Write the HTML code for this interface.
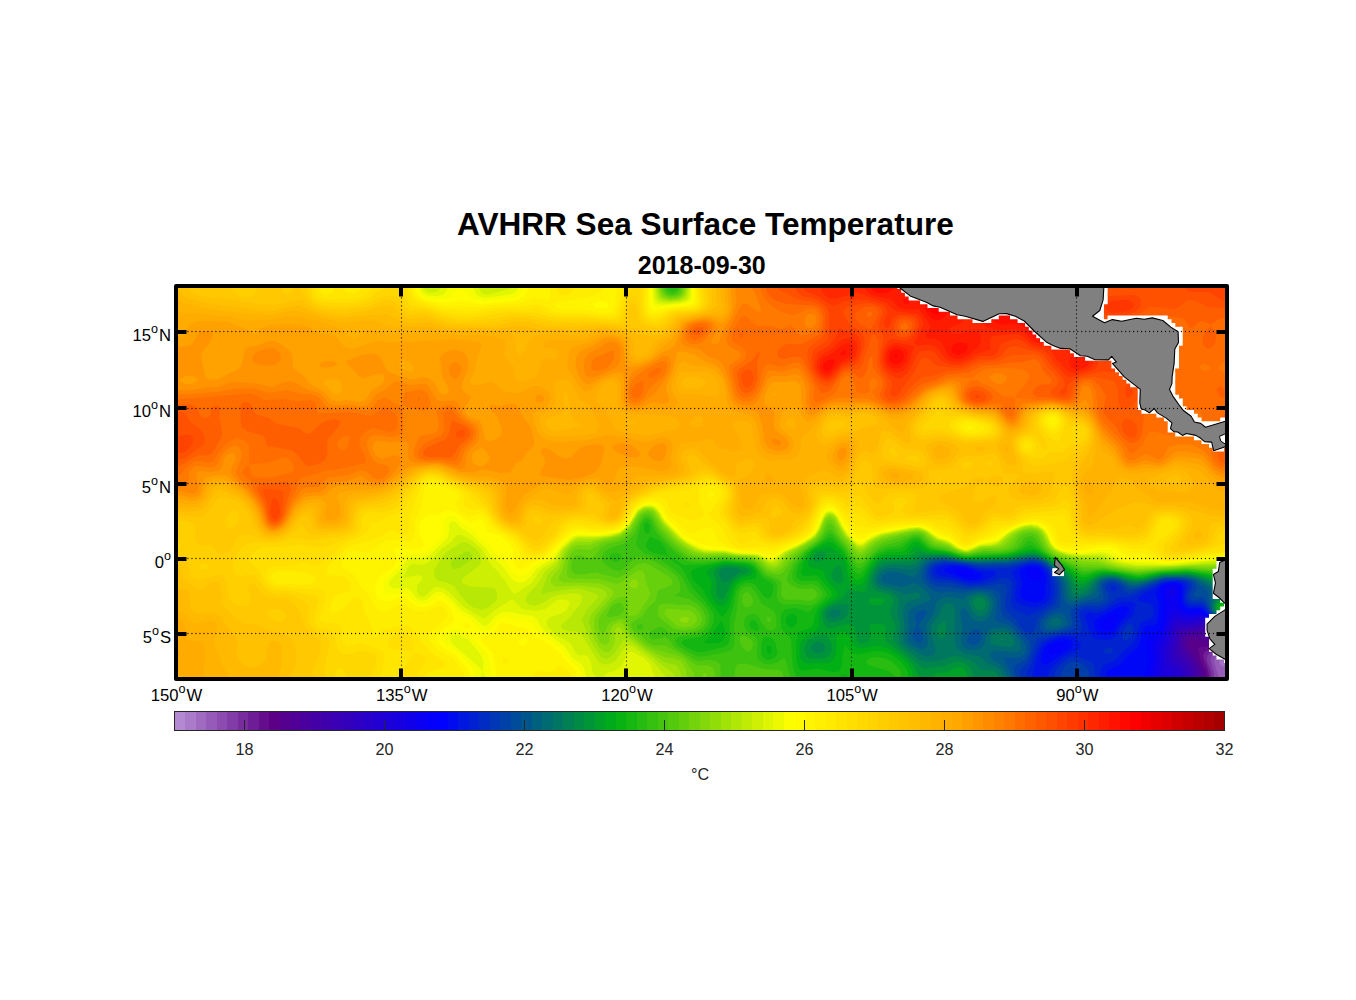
<!DOCTYPE html>
<html><head><meta charset="utf-8"><title>AVHRR Sea Surface Temperature</title>
<style>
html,body{margin:0;padding:0;background:#fff;}
body{width:1356px;height:1000px;overflow:hidden;font-family:"Liberation Sans",sans-serif;}
svg{position:absolute;left:0;top:0;display:block}
text{font-family:"Liberation Sans",sans-serif;fill:#000}
.t{font-size:16.67px}
.s{font-size:12.6px}
.cb{font-size:16.2px;fill:#262626}
</style></head><body>
<svg width="1356" height="1000" viewBox="0 0 1356 1000">

<defs><clipPath id="mc"><rect x="176.0" y="286.0" width="1051.0" height="393.0"/></clipPath>
</defs>
<rect x="176.0" y="286.0" width="1051.0" height="393.0" fill="#ffb400"/>
<g clip-path="url(#mc)">
<g fill-rule="evenodd" shape-rendering="geometricPrecision"><rect x="172.0" y="282.0" width="1059.0" height="401.0" fill="#a473c5"/>
<path fill="#975eb9" d="M1235 685l-1065 0 0-405 1065 0zM1223.5 667l3-3-0.5-3-3-1.5-3.5 1.5 0 3z"/>
<path fill="#8a49ae" d="M1217 685l-1047 0 0-405 1065 0 0 379.5-9-4.5-3-0.5-3.5 0.5-4.5 3-1 3 0.5 3 4 12-1 9zM1235 685l-8.5 0-0.5-6 2-6 7-7z"/>
<path fill="#7d34a3" d="M1211 685l-1041 0 0-405 1065 0 0 373.5-12-2-6 1-4.5 2.5-2 3 0 3 3.5 12 0 6 0 6zM1235 685l-1 0-0.5-6 1.5-3.5z"/>
<path fill="#701f97" d="M1211 685l-1041 0 0-405 1065 0 0 370-9-1.5-6 0.5-9 3-3.5 3-0.5 3 0 3 4.5 12z"/>
<path fill="#630a8c" d="M1208 685l-1038 0 0-405 1065 0 0 366-9-0.5-6 0.5-9.5 3-6 3-1.5 3 0.5 3 4.5 12 1 6 0 9z"/>
<path fill="#58008b" d="M1205 685l-1035 0 0-405 1065 0 0 362-12 0-15 4.5-9 1-1 1.5 2 9 6.5 15 0 12z"/>
<path fill="#510095" d="M1202 685l-1032 0 0-405 1065 0 0 357-15 0-12 5-3 0-9-3.5-3 0-4 1.5-1 3 0.5 3 7.5 10 8 17 0.5 12z"/>
<path fill="#49009f" d="M1199 685l-1029 0 0-405 1065 0 0 353-18 0-12 3-12-1-6 2-2 3 0 6 2 4 8.5 11 5.5 12 1 12z"/>
<path fill="#4100a9" d="M1196 685l-1026 0 0-405 1065 0 0 351-27-0.5-21 3.5-4 3-1.5 6 1.5 6 10 13.5 4.5 10.5 1 12z"/>
<path fill="#3a00b3" d="M1193 685l-1023 0 0-405 1065 0 0 349-30-1-18 3-5.5 3-2 6 0 9 3 6 7.5 8.5 3 6.5 1.5 12 0 3z"/>
<path fill="#3200bd" d="M1187 685l-1017 0 0-405 1065 0 0 348-15-0.5-15-2-21 3.5-4 2-3 6-0.5 15 1.5 4.5 7.5 7.5 3.5 6 1 6-0.5 9z"/>
<path fill="#2a00c8" d="M1184 685l-1014 0 0-405 1065 0 0 346.5-15 0-18-3-12 3-9 0-3.5 1.5-2.5 6-2.5 21 2.5 6 7 6 2 3 1.5 6-1 9z"/>
<path fill="#2300d2" d="M1178 685l-1008 0 0-405 1065 0 0 345.5-15 0-18-4.5-12 3-12-0.5-3 2-2 5.5-4 18-0.5 6 1 6 2 3 6.5 6 2 3 0.5 6-1 6z"/>
<path fill="#1b00dc" d="M1172 685l-1002 0 0-405 1065 0 0 345-18-1-15-5-3 0-9 2.5-12-1.5-3 0.5-3.5 4.5-6.5 27 1 12 1 3 6.5 9 0.5 3z"/>
<path fill="#1300e6" d="M1157 685l-987 0 0-405 1065 0 0 344-18-1-15-6-3-0.5-12 2-9-2.5-3 0-3 2-3 7-3 12-4.5 9 0 30-1.5 9z"/>
<path fill="#0c00f0" d="M1151 685l-981 0 0-405 1065 0 0 343-18-0.5-6-2-9-5.5-3-0.5-12 1.5-12-6.5-3 1-4 8.5-4 15-6 9-1 3 0.5 18-4.5 21zM1172 598l3-6-3-3.5-3 3.5 0.5 3z"/>
<path fill="#0400fa" d="M1148 685l-978 0 0-405 1065 0 0 342.5-18-1-6.5-2.5-8.5-6-3-1-9 1.5-6-2-4.5-4.5-1.5-3-0.5-3 0.5-12.5-3-3-6.5 0.5-3.5 3-0.5 3 2.5 15-3.5 21-3 6-6.5 6-1.5 3 1 18z"/>
<path fill="#0007f6" d="M1139 685l-969 0 0-405 1065 0 0 341.5-12 0-6-0.5-6-3-9-7-3-1-9 0.5-3-0.5-4-3-3-6 1-12-1-3-5-2.5-3 0-8 2.5-2.5 3-0.5 3 2 12-2 21-1 3.5-3 3-7 2.5-2.5 3-1.5 9 2.5 12-0.5 9-6 18zM1041 577l0.5-3-1-3-3.5-3-7 0-4 3 0 3 5 5 6 0.5zM973 577l1.5-3-3.5-3-3-1-9-1.5-5 2.5 3.5 3 7.5 3zM1112 628l6.5-12-0.5-2-3 0-9 4.5-4.5 3.5-1 3 0.5 3 2 1.5 3 1 3-0.5zM1052.5 655l10.5-6 2.5-3-0.5-3-7-0.5-6.5 3.5-3.5 6 1 3z"/>
<path fill="#0015e3" d="M1106 685l-60.5 0-2.5-4.5-3-1-2.5 2.5-1 3-866.5 0 0-405 1065 0 0 341-12 0-6-1-7.5-4-7.5-7.5-3-0.5-9 0.5-3-1-3-3-1.5-3.5 0.5-15-5-3.5-6-0.5-6 1-5.5 3-4.5 6 0 3 2.5 6 0.5 6-2 16-3 2.5-6 0-3 1.5-2.5 4-3.5 14-2.5 4-8.5 6-7 9-12.5 6-2.5 3-0.5 3 2.5 9zM977.5 580l5-3-0.5-3-13-6-7-1.5-9 0-7.5 1.5-2 3 21.5 8.5 6 1zM1040.5 601l3.5-3 1.5-3-0.5-9 1-9-2-6-4-4-6-1.5-6 0.5-5 2-3.5 3 0 3 3.5 9-2.5 9 0 3 1 3 3.5 2.5 6 1.5 6 0.5zM1111.5 634l3.5-3.5 6-9.5 7.5-8 0.5-3-2-3.5-3-0.5-6 1-22 12-2 3 0.5 6 1.5 3 3 3 7 1.5zM1047.5 664l22.5-15 2.5-3 0.5-3-2.5-3-6.5-1.5-6 1-8.5 3.5-3.5 3-4 6-1.5 9 2.5 4z"/>
<path fill="#0023d0" d="M1100 685l-49.5 0-2-9 0-3 1-3 13-12 7.5-4.5 9.5-4.5 1.5-3-0.5-3-4.5-4.5-3-1.5-6-1-9 1-8.5 3-5 3-3 3-4.5 10.5-5.5 22.5 0 6-861.5 0 0-405 1065 0 0 340-12 0.5-6-1-6-3.5-9-9.5-12-0.5-3-1.5-2-3.5-1-3 2-12-2-3-6-1.5-6-0.5-10 2-11 7-9 4.5-3.5 3.5-1 3 13.5 3 2.5 3 0.5 6-1 3-3 3-8 3-2.5 3-3 12-3.5 6.5-9 7-9 10-9 3.5-3 1.5-3 7.5zM974.5 583l11.5-3 6-3 4-3-1-3-12-0.5-18-4.5-12-1.5-7.5 0.5-4.5 1.5-4 1.5-1.5 3 1.5 3 4 2 12 2 12 4zM1038 607l8-4 4-5 1-6-2.5-18-4.5-6-7-4-9 0-10.5 4-4.5 3-0.5 3 4.5 9-2 12 1 6 3 2.5 6 2.5 9 1.5zM1106.5 640l5.5-1 3-2 7-12 10.5-9 1.5-3 1.5-9-2.5-2-3-0.5-9 0.5-6 2.5-12 7-6 1.5-9-0.5-3 2.5 0.5 4 4 12 3 6 4.5 2.5z"/>
<path fill="#0031bd" d="M1025 685l-855 0 0-405 1065 0 0 339.5-12 0-6-1-6-4-6-8-3-2.5-12-1-2.5-2-1-3 0-3 2.5-9-2-3.5-6-2-6-0.5-12 1.5-23.5 10.5-6.5 4-6 1-9 0-8 7-7 4-6 1.5-9-1-6 1.5-2.5 3 0 3 3 9-0.5 6.5-3 1.5-15 1-13 3-7.5 3-4 3-3 6-5.5 15.5-5 8.5 1 12zM1035 613l8-4 7.5-5 2.5-3 1.5-6 0-9-3.5-12-4.5-6-6.5-4.5-9-1-18 4.5-9 1.5-24-0.5-15-3.5-18-1-9 1-5 3.5-1.5 3 0.5 3 3 3.5 3 1.5 12 1 18 5 15-1 6-1.5 12-4.5 6 0 3 2 2 3 0.5 3-2 15 2 6 3.5 3 12 5.5zM1116.5 589l-1.5-3-4 0 0 3 1 1.5 3 1zM1145 613l-0.5 0 0.5-1.5zM1127 640l-4 0-0.5-6 2.5-6 2-2.5 3-1.5 3 1 0.5 6-2.5 6zM1112 652.5l-3 1-3 0-1.5-1.5 0-3 4.5-1.5 3 0.5 1 1zM1094 685l-38.5 0-1-12 3.5-6 9-8 6-2.5 6 0.5 12 5 3 3.5 1 7.5z"/>
<path fill="#003faa" d="M1022 685l-852 0 0-405 1065 0 0 338.5-12 0.5-6-1.5-6.5-4.5-5.5-10-3-2-9 0-3-1.5-1-4.5 3.5-9-1-3-6-3-10.5-1-11.5 1-33.5 13-3-0.5-3-1.5-3.5-5-4-3-7.5-0.5-3.5 3.5 0 3 3.5 6 0.5 3-3.5 4.5-6 3-15 0.5-3.5 1-4.5 3-2 3 2 12-1 3-7.5 3-28 6-3.5 1.5-8.5 22.5-8.5 9-0.5 3zM1034 631l3.5-12 6-6 11.5-8 2.5-7 0-12-2.5-9-6.5-9-5.5-4-6-2.5-6-0.5-24 5-24 0.5-30-4.5-9 0-9 2-2.5 1-3 3-1 3 1 6 2.5 3 6 3 12 0 18 4 21-1.5 12-2 3 0.5 2.5 2 0.5 3-1.5 12 0 6 1.5 4 9 8.5 5.5 8.5 3.5 3.5 6 2zM1082 685l-20.5 0-1-6 0.5-6 3.5-6 3-3 5.5-2.5 3 0.5 6 2 6 5.5 1 3.5-1 5.5-3.5 6.5z"/>
<path fill="#004d98" d="M1016 685l-846 0 0-405 1065 0 0 338-12 0.5-6-1.5-3-2-4-5-5-11.5-3-1.5-6 0.5-3-2.5 3.5-6 0-3-1.5-3-5-3-12-2-12 0.5-6.5 1.5-20.5 8-9 1.5-3-1-6.5-5.5-8.5-2.5-6 1.5-2 1-1.5 3 1.5 12-2.5 3-4.5 1.5-9 0-5.5 1.5-7 3-4.5 3-0.5 3 2 9-0.5 3-2 2-10 4-14 2-4.5-2-1.5-3 0.5-6 1.5-3 4-4 13.5-8 1-3 0-15-2-9-3-6-5-6-7.5-5.5-6-2-6-0.5-21 4-30 1-36-4.5-9 1.5-6 3-3 6 0 6 3 5.5 6 4 3 0.5 12 0 15 2.5 15-1 9 0 6 1 4 2.5 1.5 3 0.5 15 1.5 6 10.5 7 9 10.5 6.5 6.5 1.5 3-0.5 9-3 6-4.5 4-6 2.5-2 2.5 0.5 6 3.5 12z"/>
<path fill="#005c85" d="M1013 685l-843 0 0-405 1065 0 0 337.5-12 0-6-1.5-3-2-4-7-1-12-1-3-14-12-7-2-12-1-9 0.5-10 2.5-14 5-9 2-6-1.5-9.5-5.5-5.5-1-6 1-5 3-1 2-1 10-2.5 3-26.5 7-3-1-3-5-2-16-2.5-6-7.5-9-6-5-6-3-9-1.5-24 4.5-27 0.5-36-4-9 1-6 2-5 5.5-2.5 9 2.5 6 11 8.5 6 1 9-1 12 1.5 12-2.5 9 0 7.5 1.5 3.5 3 2 3 1 6-1.5 15 2.5 3 9 2 6 4 10 12 3 6-0.5 6-3.5 4.5-6 1.5-9-0.5-3.5 0.5 6 12 4 12 0.5 3zM923 640l-0.5-6-4-9 8.5-12-1-2.5-3-0.5-6 2-2.5 4 2 9-2.5 5-1.5 7 1.5 3 3 2.5 3 0.5zM1061 628.5l-6 1.5-6 0-4-2-1-3 0.5-3 2-3 5.5-4.5 6-1.5 3 0 4.5 3 2.5 6-1 3zM978.5 643l2-3 1-3-0.5-6-4-2-3 0-3 2-2.5 3-1.5 6 1 3 3 1.5 3 0.5z"/>
<path fill="#006a72" d="M1007 685l-837 0 0-405 1065 0 0 336.5-12 0.5-4-1-5-3-2-3-1-6 3-12.5-2-2.5-14.5-9-10.5-3-22 0-23 7-9 1-3-0.5-12-5.5-6-1-6 0.5-4.5 1.5-3 3-3.5 9-2.5 3-16.5 6-6-0.5-3-3-2-14.5-5-9-6-6-8-6-6-3-6-1.5-6 0.5-21 3.5-27 1-15-1-18-3-9 0-6 1-6 2.5-3 3-6 9-3 2.5-3 0.5-9-4-6-1-6 0-6 2-2.5 3 0 3 2.5 3 18 4 12-4 3 1 6 4 6.5 7 1.5 3-2 3-15.5 6-4 3-1.5 3 1 12-1.5 12 0.5 3 2 3 3.5 3 6.5 3 4.5 0 3-3 0.5-6-1.5-9 0-6 7.5-12 1.5-9 1.5-3 6-3 7-1.5 12 3 6-4.5 9-2.5 6 0 6 2.5 4 6 0 6-3 9-4 4.5-6 1.5-6-1.5-3-3-6-9.5-3-0.5-2 5.5 2.5 15-1.5 9 0.5 6 1 3 4 3 4.5 1 6-0.5 6-2.5 4-13 2-3.5 3-2 12-1 3 1 4.5 2.5 5.5 6 3.5 6 0.5 6-2 2.5-6 1-15-2-6.5 1.5-1.5 3 2 4.5 9 5.5 4 5 2.5 6 2 9zM1058 626l-6 1-3-2 0-3 3-3 3-1.5 3 0 3 1.5 1.5 3-2 3z"/>
<path fill="#00785f" d="M1004 685l-834 0 0-405 1065 0 0 335.5-12 0.5-7.5-3-2-3-1-6 1.5-4.5 5.5-7.5-1.5-3-22-11-9-2-24 0.5-27 7-6-1-15-5.5-9 0-7.5 3-2.5 3-5 8.5-3 2.5-9 3.5-6 0-3-2.5-2.5-12-5.5-9-14-12-8-4-6-1.5-6 0.5-21 3.5-30 1-12-1-18-3-12 0-9 2-12 9.5-3 0.5-18-1.5-6 0.5-6 3-3 4-1 4.5 1 3 3 2.5 12 3.5 12 5.5 12-2.5 4 3-1 3-12 3.5-3 3.5-2 5 0 6 1.5 9-1 15 4 6 15.5 9.5 6 1 4.5-1.5 2-3 0-3-4.5-15 0-6 0.5-3 6.5-9 6-11.5 3-1.5 3 0 3 1.5 2 5.5-0.5 30 1 6 1.5 3 8 4.5 15 3 9 7.5 9 4 3 3 2.5 5zM980 616.5l-3-1-3-2.5-5-9 0-3 1-3 4-2.5 3-1 6 0.5 3 1.5 3 4 1 3.5-1 5.5-2 3.5-4 3zM1013 646l-3 1-12-1-6-1.5-1.5-1.5 0-6 2.5-3 5-2.5 6 0 3 1 3 2 4 5.5 0.5 3z"/>
<path fill="#00864c" d="M995 685l-825 0 0-405 1065 0 0 308-12-1-26-10-10-2-24 0.5-21 5.5-6 1-6-1-12-4-9-1-9 1.5-4 2.5-8 9.5-3 2.5-6 2-3 0-3-2-3-9-3-6-5.5-6-15.5-11-6-3-6-1.5-6 0-21 4-30 1-12-0.5-21-4-15 1-6 1-9 6-3 1-18-0.5-9 1.5-6 4-2.5 4-1.5 6 2 6 4.5 3 11 3 4.5 3 2 3 1 3-2 12 3.5 12-1.5 15 3.5 6 17.5 14 6 2 12.5-1 14.5-5 6 0.5 12 4 5 3.5 4 5 3 1 9 0.5 4.5 2.5 1.5 3 0.5 3-2 6zM1235 615l-12 0.5-6-2.5-2.5-3-1-3 0.5-3 3-5.5 3-2 6-2.5 9 0.5zM983 610l-3 1-3-1.5-2.5-2.5-1-3 0-3 2.5-3 4-0.5 2.5 0.5 2.5 3 1 3-0.5 3zM839 616l2-3-1-3-1-0.5-6 0-4 3.5 0.5 3 3.5 2zM944 637.5l-3 1-3-2-1.5-5.5 1.5-5 6-5 1.5 1 1 6-1 6zM1004 640l-4.5 0 1.5-2z"/>
<path fill="#00943a" d="M974 685l-804 0 0-405 1065 0 0 305-12-1-27-8.5-9-1.5-24 1-21 5-6 0.5-6-0.5-12-4-9-1-6 0.5-5 1.5-5 3-8 7.5-6 1.5-3-1.5-6.5-10.5-5.5-6-18-12.5-6-3-6-1.5-6 0.5-21 4-33 1-12-0.5-18-4-21 0-3.5 1-8.5 5-24 1-6 2-3 2-4 5-2 5-1 4 0.5 6 3.5 4.5 14.5 4.5 3 3 1 3-0.5 3-3.5 9 6 12 0 3-2.5 9 0.5 3 1.5 3 25 23 3 2 3 0 18-2 12-4.5 3 0 6 1.5 4.5 4 3 6 3 12zM725 583l16-12-4-3-3-0.5-6-0.5-6 1-3 3-0.5 3 3.5 8zM1235 614l-9 0.5-7.5-1.5-2.5-3-1-3 2-5.5 6-4 6-0.5 6 0.5zM837 622l6.5-3 3.5-3 2.5-6 0-3-1.5-2-3-1-9 1-6 2-3.5 3-1.5 3 0 3 2 4.5 3 2zM823.5 652l2-3-0.5-3-2-3-5-1.5-4 1.5-3 3 0 3 2 3 5 1.5z"/>
<path fill="#00a227" d="M917 685l-747 0 0-405 1065 0 0 302.5-15-1.5-30-7.5-27 0.5-21 5-6 0.5-21-5-9-0.5-9 2-12 7.5-3 1-3-0.5-3-2.5-6-7.5-8-6-19-12-9-3-6 0-21 4-36 2-9-1-15-3.5-18-1-9-2-3 0.5-9 5.5-24 1.5-6 3-6 8-3 7-3 13.5-3 2-15-3-5.5 8.5-12.5 6.5-6 4.5-2 4 0 6 2 5 3 4 3 0.5 15-4 7.5 0.5 2 3 2.5 12 3 3 3 0.5 3-1 3-2 1.5-3.5-1-12 5.5-1.5 9 1.5 1.5 3-1 9 1 3 2.5 3 19 15 5.5 6 3.5 6 3 6 1 6 0 3zM819 562l5.5-3 1.5-3-0.5-3-1.5-1-3-0.5-3 0.5-2 1-2.5 3-0.5 3 2 2.5zM724.5 598l5-12 4.5-6 6-4 6.5-2 2.5-3-2-3-13-2.5-9-0.5-8.5 3-2.5 3 0 3 2.5 9 0 12 2.5 4 3 0.5zM842 583l1-3-0.5-9-3.5-6-3 1-3 4-1.5 4 0 3 1.5 3 3 2.5 3 1zM881 604.5l-6 1-5-1.5-1.5-3 1-3 12.5 0 3 3zM1232 613.5l-6 0.5-6-1.5-3-2.5-0.5-3 0.5-3 3-3 3-1.5 12 0 0 13.5zM863 620l-3-1 3-0.5zM825.5 658l4.5-3 2-6-1-6-4-8-3-1-9 2.5-6 3-3 3.5-2 6 2 7 3 2 3 0.5 9 0.5zM968 685l-34.5 0-1.5-6 1-3 4.5-3 9.5-0.5 9-5 3-0.5 3 0.5 3 2.5 1.5 3 2.5 9 0 3z"/>
<path fill="#00b014" d="M911 685l-741 0 0-405 1065 0 0 300-18-1.5-21-5-9-1-24 1-21 4.5-6 0.5-21-5-12-0.5-6 1.5-12 6-3 0.5-3-1-14.5-12-21.5-13-9-4-6 0.5-21 4.5-39 2-9-1-12-3.5-18-1.5-4.5-2-7.5-4.5-3 1-5.5 6.5-3.5 2-18 0.5-9 3.5-7.5 9-7.5 15.5-3 1.5-3 0-5-2-2.5-3-4.5-18-3-5.5-3-3.5-8.5-6-3.5-0.5-12 4-3.5 2.5-3 6-0.5 3 1 4.5 3 1.5 9 1.5 2 1.5 4 9.5 10.5 11.5 0 3-2 3-11.5 8-4 4-1.5 6 0.5 9-1 3.5-2.5 2.5-10.5 6-3 3-2 5.5-0.5 6.5 1 6 1.5 3 4 2.5 24-0.5 3-2.5 2.5-5.5 1-6 0-12 1-3 4.5-2.5 3 0.5 3 2 6 11 3 2.5 6 1 15-3 12 4 9 6 9 8.5 3.5 6 1.5 6 0 9zM726 604l2-3 3.5-12 3.5-6 5-4 12-4 1-4-1.5-3-7-3-19.5-1.5-7 1.5-7 3-4 3 0 3 3 4 2 5-1.5 9 1.5 6 4 5.5 3 2 3 1zM1235 611.5l-12 1-4-2.5-1-3 1-3 4-2.5 6-0.5 6 0.5z"/>
<path fill="#14b612" d="M905 685l-53 0-1.5-6-2.5-3-3-1.5-3 0.5-3 2-3.5 8-665.5 0 0-405 1065 0 0 298-24-2.5-15-3-9-1-27 1.5-18 4-6 0-21-4.5-12-0.5-6 1-12 4.5-3 0-3-1-11.5-8.5-27.5-16-6-2.5-6 0-11 3.5-10 2-42 2.5-18-5-18-2.5-12-8.5-3 0.5-3 2-5 6-4 2-15 0.5-9 3.5-6 6-9 15-3 2.5-3 0.5-3-2-2.5-4-6.5-18.5-3-4-9-8.5-3-1.5-3 0.5-14.5 8-5.5 6-3 6-3 9 0.5 3 1.5 1.5 3 0.5 9-1 3 1 11.5 13 2 3 0.5 3-2 3-9 7.5-4 4.5-2.5 6-0.5 6-2 4-3 2.5-9 3-2 2.5-1.5 6-0.5 15 0.5 6 2 6 1.5 2 3 1.5 15-2 15 3.5 6-0.5 2.5-4.5 1.5-15 2-7 6 7 3 2 6 0 12-2.5 6-0.5 9 1.5 6 3 9 7.5 5 7 1.5 6-0.5 9zM722.5 616l2.5-2 4.5-7 5-18 2.5-4.5 6-4 12-1.5 1.5-2-0.5-6-2-3-4-3-7-1.5-18-1.5-28.5 6-5 3-0.5 3 2.5 6 9 9 6.5 12 13 16zM1235 610l-9 1.5-3-0.5-2-1-1-3 2-3 4-1.5 9 1.5zM795.5 625l2-6-1-3-2.5-2-3 0-3 1.5-2 3.5 0 3 1 3 4 2.5 3-0.5zM718 643l4-1.5 3-4.5 0-7-3-9-3 3-6.5 10-8.5 9 6 0.5zM771 652l0.5-3-1-3-3.5 0-0.5 3 0.5 4 3 0.5z"/>
<path fill="#29bd11" d="M797 685l-627 0 0-405 1065 0 0 296-24-2-24-3-27 1.5-21 3.5-6-0.5-15-3-12-1.5-9 0.5-12 3.5-3 0-30-17-15-9.5-6-3-3 0.5-12 5.5-9 2.5-42 2.5-18-5-15-2-5-2.5-7-7-3-1-3 0-4 2-8 7-15 2-9 3.5-6 5.5-9 12-3 2.5-3 0.5-3-3-9-19-12-13-3-2-3 1.5-20 14.5-8.5 12-2.5 9 1 4 3 2.5 3 0.5 12-0.5 3 1 8.5 10.5 0.5 3-1.5 3-16.5 13.5-3 0-6-2.5-6-1-9 1.5-3.5 3.5-1 6 1 9 1.5 3 6.5 6 1.5 3 1.5 24 1.5 7 4.5 11 0.5 3zM650 532l0-7-3-3-3 2.5 0 6 3 3.5zM703 652l19-4.5 4-1.5 3-3 1-6-0.5-18 4-12 2.5-15 4-6.5 6-2.5 4.5 0 4.5 1.5 9 12 3 2 3 0 2-3.5 1-3 0.5-6-2-3-9.5-6-7-10.5-6-3.5-24-2-21 3.5-21 0-15-9-3.5-8.5-5.5-6.5-9-4-4 7.5 0.5 3 1.5 3 5.5 3 14.5 3 5.5 6 6.5 4 3 4 9 17 12 13 9 13 1 3-0.5 6-2.5 6-4 5-6 3.5-18 3.5-1.5 3 3 3 10.5 5.5zM1229 608.5l-3 1-3.5-2.5 3.5-1.5 5 1.5zM758 631l1-3-1-4-3-3.5-3-0.5-2.5 2-0.5 3 1.5 3 4.5 3zM774.5 658l2-3 1-3-2-9-2.5-4-3-2-6-0.5-1.5 3.5-1.5 9 0.5 6 2 3 3.5 2 3 0zM899 677.5l-3-1-9-6-18-5-2-1.5-1-3 4-3 5-1 9 1 6 2.5 6 5 4 4.5 1 3-0.5 3z"/>
<path fill="#3dc30f" d="M791 685l-621 0 0-405 497.5 0 0 9 3.5 3 3.5 0 3-3 0-3-1.5-6 559 0 0 294-27-1.5-18-2.5-30 1.5-21 3.5-33-5-9 0-9 2.5-6 0-32-16.5-8.5-6-10.5-9.5-3 0-6.5 6.5-5 3-6.5 2-9 1.5-18 0.5-15 2-6-0.5-12-4-18-3.5-3-1.5-8.5-8.5-3.5-1-6 1-12 7.5-12 2-9 3.5-6 5-9 10.5-3 2-3-0.5-3-3.5-9-15.5-12-14-3-1.5-3 1.5-5.5 6-17 12-9 12-3.5 9 1 6 4 3.5 6 1.5 9-1 6 2.5 4 5.5 0.5 3-1.5 3-6 5.5-6 2-12-1.5-12 0.5-3-0.5-4-3-1-6 0.5-9-1-3-3.5-3-9-4.5-9-11-6-2.5-18-2-9 0-21 2.5-9-0.5-6-1.5-14-10.5-14-15-2.5-3-5.5-12-3-1.5-3 1-3 5-4.5 16.5-0.5 3 1.5 3 6.5 6 18 7.5 15 11 5 5.5 7.5 15 14.5 13.5 3.5 4.5 2 6-1 9-5 6-8.5 3.5-15 2-3 1-2 2.5 0.5 3 2.5 3 14 8 6 2.5 6 0 18-3.5 9-2.5 3-4.5 0-22.5 2.5-10.5 2-18 1.5-4.5 3-3 3-1 3 0 3 1.5 3 3.5 7 12.5 11 6.5 2 2.5 1.5 6-0.5 8-3 3.5-6-1-3-3.5-6-10-3-2-6 0.5-2.5 1.5-2 3-0.5 6 1 3 2 3 8.5 6 1.5 3 0.5 6-1 9 1 3 3.5 4 3 1.5 6 1 6-1.5 9-5.5 5 18.5zM617.5 562l3.5-3 0.5-3-1.5-2-3-1.5-6 1-1.5 2.5 0.5 3 4 3zM785 649l0-3.5z"/>
<path fill="#52c90e" d="M719 685l-549 0 0-405 494.5 0 0.5 9.5 3 4 3 1 3 0 4-2.5 1.5-3 0.5-3-1-6 556 0 0 292-27-1-21-2-27 2-21 3-36-5.5-18 2-3-0.5-30-14-8-6-9.5-12-3.5-2-6 1.5-7.5 9.5-7.5 3.5-12 2-15 0-15 2.5-12-2-12-4-10.5-2-4.5-2.5-9-9-6-0.5-15 6.5-15 4-6 3-15 14-3 1.5-3-0.5-3-3.5-8.5-13-12.5-15.5-3-2-3 1.5-8 10-13 9-6.5 6-7 9-5.5 12-0.5 3 2 3 5.5 4 6 2 12-0.5 3 1.5 2 2 0.5 3-2 3-3.5 2.5-3 0.5-12-1.5-9 0.5-3-0.5-3-3-1-4.5 1-9-2-3-13-5-12-12.5-6-2-21-2-24 1.5-12-0.5-3-1-12-7.5-6-5.5-12.5-13.5-5.5-11-3-4-3-1-3 1-4.5 6-4.5 10.5-6 6-6 4.5-12 3.5-6 3.5-3 5 0 3 1 3 5 4.5 6 3.5 6 1 4.5-3 10.5-10 6-1 15 5 15 9.5 6 5 3 6.5 0 8-3 3.5-5 0.5 17 4 9 5.5 5 5.5 2.5 6 0 6-1 3-2.5 3-5 3-8 1.5-9 1-9-0.5-3-1-4-4-5-1.5-9 5.5-1.5 2 1 3 3.5 3 12-3 3 1.5 6 8.5 21 13 3 1 12-1 6 1 4 3 0.5 3 0.5 18zM749 607l-3.5 0-3-3-0.5-3 0.5-6 3.5-3 3 0.5 3.5 5.5 0.5 6zM770 622.5l-3-2 0-4 3 1 1 1.5zM643.5 628l-1-3-1.5-1-4 1 0 3 1 1 3 1zM749 651.5l-3-0.5-3-2.5-3-5.5 0-6 3-2 6 3 2.5 2 1.5 3-1 5.5zM782 685l-48.5 0 2-18 1.5-2.5 1.5-0.5 7.5-0.5 18 5.5 15 1 3 2 1 4z"/>
<path fill="#66d00c" d="M713 685l-543 0 0-405 493 0-0.5 6 1.5 6 3 3 4 1 6-1 3.5-3 1-6-0.5-6 554 0 0 290-27 0-21-1.5-27 1.5-24 2.5-33-5-21 0-24-9.5-8.5-5-6-6-6.5-11.5-6-2.5-6 1-3 1.5-3 2.5-6 8.5-6 3-9 1.5-15 0-15 3-8.5-1-12.5-5-12-2.5-3.5-1.5-8.5-9-3-1-6-0.5-26 7.5-7.5 3-5.5 3-12 11.5-3 1-3-1-3-3-16-20.5-5-9-3-2.5-3 1.5-5 10-4 5-22 16-14 17.5-6 1-9-2.5-9-9-6-3.5-27-2.5-24 1-12-2.5-6-3.5-9-7.5-14.5-15.5-6.5-12-3-3-3-0.5-3 0.5-3 2.5-7 12.5-8 8.5-6 3.5-12 3-6 3-9 10.5-3 1-12-3.5-3 1-3 4-1 8 1 3.5 3 2.5 6 0.5 15-2 21 5.5 6-2.5 15-11.5 6-1 6 2 19.5 12 2.5 3 0.5 3-1.5 2.5-12 4.5-1.5 2-2 9-8.5 8-4.5 7-10.5 6-1 3 0.5 3 2 3 7.5 5 9 8 6 1.5 9 0 18 9.5 12 9.5 3 1 9-0.5 5 2 2 3 1 6-1 9zM618.5 616l4-3 1.5-3-1-5.5-3-2-5.5 1.5-3.5 3-3.5 6-1 3 1.5 1.5zM695 628.5l-12 2-9-1.5-13-10-2-2.5-1.5-3.5 0.5-6 3.5-3 6.5-0.5 12 1.5 9 0 5.5 2 5.5 6 2 6-2 6z"/>
<path fill="#7ad60a" d="M689 685l-519 0 0-405 491 0 1 12 3 3.5 6 2 6-1 3.5-1.5 2-3 0.5-3 0-9 552 0 0 288-27 0.5-21-1-51 4-36-6-18-1-21-7-9-4.5-6-6-6.5-12-4-3-4.5-1-6 0.5-7 3.5-8 9.5-6 3.5-6 1-15 0.5-15 4-9-1.5-12-5.5-12-3-12-10-3.5-1.5-6.5 0-24 6-8.5 3-5.5 3-12 10.5-3 1-3-1-3-3-13.5-16.5-7.5-13.5-3-2-3 1.5-7 14-5 5.5-23 15.5-10 12.5-3 2-6 1-6-2.5-7-7-8-3.5-27-3-21 1-9-1.5-6-2.5-12-8.5-14.5-15-9.5-15.5-3-2-3-0.5-6.5 3-2.5 3.5-6.5 11.5-8.5 7.5-6 2.5-15 4-12 7-12-1-3.5 1-2.5 2-3 4.5-2.5 17.5 1.5 3 4 1.5 27 0.5 18 5 6-2.5 12-9.5 3-1.5 4.5 0.5 2 3 1.5 9 4 9 0 3-11 18-4 2.5-6 0.5-1-3 0.5-12-1.5-3-4-1-6 1-6 4.5-11 13.5-2 6 1 7.5 3 4 3-2 3-6.5 3.5-3 8.5-3 6 0.5 4 11.5 17 14.5 6 3 24 7 5.5 2.5 3 3 8.5 12 0 3-2.5 9zM692 626l-9 1.5-6-1.5-11-10-1.5-3 0.5-3 3-1 3 0 18 1.5 3 1 3 2.5 2 5-0.5 3zM707 676.5l-3 0.5-1.5-1 1-3 1.5 0 2 2z"/>
<path fill="#8fdc09" d="M686 685l-516 0 0-405 489.5 0 0 9 2.5 6 3 2.5 6 1.5 6.5-1 5-3 2-6 0-9 550.5 0 0 286-30 1-15-0.5-54 3.5-15.5-2-23.5-5.5-15-1-21-6-6.5-2.5-6.5-6-5-10.5-3-4-3-2-6-1.5-6 0.5-6 2.5-4.5 3-9 9-4.5 2.5-6 1.5-12 0-15 4.5-6-0.5-15-7-12-3.5-11.5-9.5-6.5-1.5-10 1.5-24.5 6-7.5 3.5-12 10-3 1-3-1.5-3-2.5-11-13.5-8.5-15-4.5-3-3 1-3 4-4 10-4.5 6-27 18-9.5 11-6 2-6-2.5-9-7.5-6-2-27-2.5-21 0-12-3-9-5.5-9-7.5-12-13.5-6-10.5-3-3.5-3-1-6 0-6 5-9 14.5-9 6.5-19.5 5-10.5 4-12 0-6 2.5-3 3-3 5.5-2.5 12-4.5 9-0.5 3 4.5 2.5 15 0 21 1 6 2 6.5 3.5 2 3-0.5 3-15.5 18-3.5 6 0 9 5 12.5 3 3.5 3 1 3-1 1.5-4 0.5-9 3-6 4-2 3-0.5 3 1.5 6 10 18 14.5 18 9 9 1 6.5 2.5 2.5 3 3 6 0.5 6zM638 586.5l-3 2-3-0.5-3-2 0.5-3 2.5-3 3-1 3 2.5zM686 623l-5-1-1.5-3 3.5-2 3 0 3 1.5-1 3.5z"/>
<path fill="#a3e307" d="M680 685l-510 0 0-405 488 0 0.5 9 1.5 6 2 2.5 3 1.5 6 1 9-1.5 4.5-3.5 1.5-6 0-9 549 0 0 284.5-45 1-51 3.5-18-2-9-2-15-5-18-1-21-6-5.5-3-3-3-8-15-4-3-6.5-1.5-8.5 1.5-6.5 3-5 3-9.5 9-3.5 1.5-16.5 1.5-13.5 5-6-0.5-6-2.5-8-5-13-4.5-9-7.5-9-2.5-30 5.5-9 3-5.5 3-9.5 8-3 0.5-3-1-10-10.5-4.5-6-6.5-12.5-3-3.5-3-1-3 1-3 3.5-3.5 9.5-5.5 8.5-9 6-17 9.5-4 3-6 7.5-3 2.5-3 0.5-6-2.5-6-5-8.5-3-15.5-0.5-12-2.5-18 0.5-12-2.5-9-5-9-7-14.5-16-7.5-12-5-3-3 0-7 3-2 2-7.5 13-4.5 5-6 3.5-6 2-9 1.5-15 4-12 0-6 2.5-3 2.5-4.5 6-4.5 14.5-8 9.5-1 3 0 3 3 2.5 3 1 24-1 18 2.5 6 3 2 4-1.5 3-13 15-2 3-1.5 6 4 15 6 10.5 6 4.5 3 0 3-2 4-7-0.5-12 2.5-3.5 3 0 7.5 9.5 7.5 4.5 12 9.5 18 11.5 9 2 3 1.5 3 5 1.5 8 0.5 6z"/>
<path fill="#b8e906" d="M677 685l-507 0 0-405 487 0 0.5 12 1.5 5 3 2.5 9 1.5 9-1 4-2 2-2.5 1.5-6.5 0-9 547.5 0 0 283-96 4.5-18-2-12-3.5-9-4-21-0.5-12-2.5-9-3-6.5-5-8.5-15.5-3-2.5-9-2.5-6 0.5-12 5-15 12-6 2-12 0.5-12 5-3 0-9-3-6-4.5-12-4-12-8.5-6-2.5-3-0.5-34 6.5-8 3-12 9-3 0.5-3-1-11.5-11.5-5.5-9-4-8.5-3-3-3-1-3 1-3 4-4 10.5-5 7.5-9 6.5-20 10-10 10-3 1-3-0.5-7-4.5-8-3.5-18-0.5-12-2.5-21 0-9-3-17-11.5-14.5-15-5-9-5.5-6-9 0-6 4-8.5 14-9.5 8-9 2.5-18 3-15 0-4.5 1.5-4 3-6.5 7.5-6 14.5-9 8-6.5 18 0.5 2.5 9-3 27-3 13.5 3.5 6.5 3-0.5 3-10.5 12-5 9 0.5 3 9 21 7.5 11 3 3.5 3 1 3 0 6-4 9-14 3 0 6 2 21.5 15.5 8.5 7.5 9 5.5 4 5 2 6zM459.5 568l12.5-9 0.5-3-2.5-3.5-3-1-3 1-10 6.5-3 3-0.5 3 1.5 3.5 3 0.5z"/>
<path fill="#ccef04" d="M668 685l-498 0 0-405 485.5 0 0.5 12 1.5 6 4.5 3.5 6 0.5 12-1 6-3 2.5-6 0-12 546.5 0 0 281.5-18 0.5-45 4-36 0-12-1.5-10.5-2.5-11-6-26.5-0.5-9-1-9-3.5-3-1.5-5-5.5-3.5-9-3.5-4.5-6-4-6-1-6 0.5-8 3-10 5.5-9 8.5-6 2-12 1-12 5-3 0-9-3.5-6-4.5-6-2.5-6-1-12-9-6-2-3-0.5-6 0.5-30 6-12 6-6 5-3 0.5-3-0.5-10.5-10.5-5.5-9-4.5-9-3.5-3.5-3-0.5-3 0.5-3 4-5 11.5-3.5 6-4 3-11.5 7.5-15 7-9 8-3 1.5-3 0-12-6.5-3-0.5-18-1-12-2-21-0.5-9-3.5-9-5-6.5-5-14.5-15-4.5-6-1.5-4-5-5-4-1.5-6 0.5-6.5 4-8.5 14.5-9 7.5-9 3-15 1.5-18 0-6 3-10 9.5-5.5 12-2.5 2.5-9 6.5-6.5 12-11.5 12-1.5 3 0 3 2.5 3 2 1 6 0.5 6-2 9-6 6-2.5 18-2 6 2 1 3-1.5 6-11.5 14-7.5 7 0 3 4.5 3 9 0.5 6 2.5 17 27 4 3 6 0.5 6-2.5 3-3 6-9.5 3-3 3-1 3 0.5 20.5 15 15 18 2 6zM490 286l-2-4-1.5 4 1.5 1.5zM489 607l7-6 1-3 0-6-2-3-4-1.5-21-1-8-3.5 0-3 2.5-3 15-12 1.5-3 0.5-3-2-6-6-6-6.5-4.5-6 0-15 10-3 3.5-9 14 0.5 7 2.5 3 12 3.5 5 2.5 6 9 8 9 4 3 10 3z"/>
<path fill="#e0f602" d="M596 685l-426 0 0-405 252.5 0 0 6 1.5 3 4 3 3 0.5 5-0.5 4-3 0.5-3-0.5-6 38.5 0-0.5 6 2.5 6 4.5 2.5 3 0 21.5-5.5 3-3 0.5-6 141 0 0.5 12 1.5 7.5 3 3 9 1 15-2 3-1 2.5-2.5 1.5-6 0-12 545 0 0 280.5-21 0.5-42 4-36 0-18-3-12-7-3-1-21 1-12-1-9-2.5-6-3-4-4.5-4-9-4-5.5-6-4-6-0.5-6 0.5-9 3-9 5.5-9 8-6 2-12 1-12 5-3 0.5-6-2-9-6-6-2.5-6-1.5-12-8.5-6-2.5-3 0-6 0.5-30 6-12 5.5-6 5-3 0.5-3-0.5-9.5-9.5-6-9-4-9-4.5-4.5-3-0.5-3 0.5-1.5 1.5-3.5 6-3.5 9-3.5 5.5-4 3.5-11 6.5-15 7-12 9-3 0-12-5.5-21-1.5-12-2.5-21-0.5-6-2-12-6.5-5-4-16-16-3.5-5-1-3-4.5-5.5-3-2-3-0.5-6 0.5-6 3.5-9 14.5-9 8-12 3-15 1.5-12-0.5-6 0.5-11.5 10-5 6-4.5 8.5-11.5 6.5-3 3-7.5 12-17 11-3-2-5.5-9-9.5-12.5-6-5.5-9-15.5-12-10.5-9-4-3 0-3 2-3 4-11.5 9-6.5 7.5-6 5-6 2.5-9-1-3 1-2 3-4.5 9 0.5 0.5 15-2.5 3.5 2-1 3-4.5 6 0 6 2 3.5 3 1 3-0.5 9-8.5 3-0.5 6 1 6 4 15 15 18 11 3 0.5 9-8 18-11.5 9 9 5.5 2 6.5 0.5 6 0 6-1.5 12-9 6-0.5 6 1.5 0.5 3-3 6-4 3-11.5 4-2.5 2-2 3 0.5 3 2 3 8 7.5 13.5 7.5 2 3 2.5 6 3 3 9 0.5 2 2.5 1.5 3 2.5 12.5 4.5 5.5 0.5 6zM653 685l-36.5 0-2.5-3.5-7.5-2.5-3-3 3.5-3 7-2 6-3.5 3-4 3.5-8.5 2.5-3 3-0.5 11.5 6.5 6.5 6 5.5 15 0.5 6z"/>
<path fill="#f5fc01" d="M587 685l-100 0-2-9.5-2-2.5 0-3 0.5-9-2.5-6-12-15-8-4-6-1.5-4.5 2.5-0.5 3 1.5 3 24 21 6 6 0 3-4 12-307.5 0 0-405 249 0 0.5 6 2.5 6 6 3.5 9 0.5 5.5-1 3.5-3 2-6-1-6 24.5 0 2 9 2.5 5 3 2.5 6 1.5 27-4 3.5-2 2-3 1-9 134 0 0.5 15 1 6 2.5 3 5.5 1 18-1.5 8.5-2.5 2-3 0.5-3 0.5-15 543.5 0 0 279-21 1-48 4-40.5-2-9-3-7.5-5.5-6-1.5-21 2-12-1-9-2-6-3.5-3.5-3.5-3.5-9-4.5-6-6.5-4-6-1-9 1.5-12 5.5-12 10-18 3.5-3 1-3 2-9 2.5-7.5-3-7.5-5.5-12-4-9-6.5-9-4-9 0.5-30 5.5-9 3.5-9 6.5-3 1-5.5-3-3.5-3.5-6.5-8.5-6.5-12-5-5.5-3-0.5-3 0.5-2.5 2.5-2 3-4.5 12-3 4.5-5 4.5-10 6-15 7-12 8.5-3 0-12-5.5-21-1-12-2.5-18-0.5-9-2.5-12-6.5-6-5-15-15-4-7-5-6.5-3-2-6 0-3 0.5-6 3-9 15-5 5-5 3-14 3-12 1-15-0.5-3 0.5-3 1.5-10.5 9.5-9 12-15.5 9-7 9.5-6 4.5-6 1-6-3.5-10.5-14.5-10.5-9-6.5-9-14.5-13.5-7.5-4.5-7.5-7-3-0.5-3 2.5 0 8-1.5 6-16.5 16-6 4-15 0.5-3 1.5-7.5 11-9.5 9-1 3 1 3 2 1.5 3 1 12-0.5 3 1.5 6 8.5 6 3 6-2 6-5.5 3-2 6 1 6 5 12.5 12.5 11.5 6.5 9 8.5 3 1 3-1.5 7.5-8.5 7.5-4 6-0.5 12 3 12 1.5 4 3 5 9.5 14 11.5 8.5 6 8 12 9 6 2 3 2.5 9z"/>
<path fill="#fffb00" d="M581 685l-89 0-2-21-3-9-15-18-14-7.5-3-0.5-6 1.5-3 2.5-3 4 0 3 1.5 3 13.5 10 13.5 14 2.5 6-1.5 12-302.5 0 0-405 246.5 0 0.5 6 2 6 3 3.5 6 2.5 12 1.5 6-1 6.5-3.5 5.5-5 3-1 3 0.5 9 8.5 3 1.5 9 1.5 30-4 3.5-2 2.5-3.5 2-5.5 0.5-6 128 0 0 18 1 6 3 3 3.5 0 27-3 5.5-3 1.5-6 0-15 542 0 0 277.5-21 1-45 4.5-42-3.5-6-2-9-6.5-6-1.5-9 0.5-14.5 3-9.5-0.5-12-2.5-5.5-3-3.5-4-4.5-11-2.5-3-8-5-3-0.5-12 1-12 5.5-15 11-12 1.5-6 2-3.5 2.5-8.5 2-6.5-2-11.5-8-11.5-4-6.5-5-9-3.5-12 0.5-27 5.5-9 3-9 6-3 0.5-3-1-9-8.5-11-18.5-4-3.5-3-1-3 1-4 3.5-8 18-6 6-27 13.5-9 6-3 0.5-12-4.5-18-1-18-3.5-12 0-9.5-2-17.5-9.5-18-18-6.5-11.5-2.5-2.5-6-1.5-6 1-6 3.5-2.5 2.5-6.5 12-2.5 3-3.5 3-6 3-21 3-18-1.5-6 2-10 8.5-11 13-3 2-13 6-8 8.5-6 3-3-0.5-3.5-2-3-3-5.5-9.5-11-8.5-6-9-9-6-7-8.5-9-5-9-8-6-1-3 1.5-2.5 3-1 3 1 9-0.5 3-2 3-16 15-6 1.5-12-0.5-3 1.5-6.5 12.5-10.5 9-2.5 3-1.5 9 3 4 6 1 12-1 3 1 7 7 5 2.5 6 0.5 3-1 9-7 3-0.5 3 1 8 7.5 10 11 9 4 9 10 3 1.5 6-0.5 3-2 6-7.5 6-3.5 6 0.5 9 2.5 12 1.5 9 10.5 23 17 8.5 12 7.5 6.5 2 2.5 1.5 6 0 9z"/>
<path fill="#fff400" d="M467 685l-297 0 0-405 244 0 0.5 6 2 6 2.5 4 6 3 15 3.5 6 0.5 15-2.5 15 3 6 0.5 36-4 6.5-5 8.5-15 3 0 3 3 3-1 0.5-2 107.5 0-0.5 24 1 3 2.5 2.5 3 0.5 13.5-3 16.5-1.5 6-1.5 2-3 0.5-3 0-18 540.5 0 0 276-21 1-45 5-24-4-15-1-6-2.5-7-4.5-8-2.5-9 0-18 3.5-15-1-9-3-3-2.5-6-12.5-3-4.5-6-3.5-6-1.5-12 1.5-18 8-9 6-15 4-9 5-3 0.5-7.5-0.5-10.5-8-12-4.5-12-7.5-6-1-12 0.5-21 3-15 4-9 5-3 0.5-3-1-9-8.5-12-18.5-3-2.5-3-0.5-3 0.5-5.5 5.5-6.5 16-3.5 5-9.5 6-29 13.5-3 0.5-15-3.5-18-0.5-12-3.5-15-1.5-9.5-2-17.5-9-8-9-7-6-9-14.5-3-2-6-1-6 1-6 3.5-3.5 4-7 12-7 6-9.5 3-12 1-9 0-12-1.5-6 2-12.5 10.5-11.5 12-15 6.5-9 5.5-3 1-3-0.5-3-3.5-2-6 0-9-3.5-6-6-6-3.5-2.5-12-3.5-2-3-2-6-2-3-3-0.5-9 2.5-3-1-12-9-6-2-3 0.5-9 4.5-9 0.5-6 4-2 3.5-1 6 1 6 4 9-2 3.5-6 2-18-1.5-4.5 2 3 9-1.5 6-3 3.5-9 5.5-3 3-5 9 0 6 2.5 6 5.5 3 6 0 12-3.5 6 2 9 6.5 6 1.5 6-1 9-5.5 3-0.5 3 1 3.5 2.5 5 6 3 9-1.5 3-13 10-2.5 5-0.5 3 1 3 2.5 3 15 9 11.5 13 2.5 5 0 3-1 9zM607.5 307l1-3-3.5-2.5-6 0-6 2.5 1 3 5 1 6 0zM447 496l-1.5 0zM470 628.5l-4-0.5-3-3 1-1 3-0.5 2.5 1.5zM575 685l-78.5 0-0.5-12-2.5-18-2.5-4-8.5-8-1.5-3 1-3 12-4 5.5-8 3.5-2 3 0 12 4.5 7 0.5 2 1 6 7 9 4 18 13 6 8.5 9 8.5 1.5 3 1 6-0.5 6zM524 646l3.5-3 0-3-0.5-1.5-3-1-3 0.5-2 2-0.5 3 2.5 2.5z"/>
<path fill="#ffed00" d="M461 685l-291 0 0-405 241.5 0 1.5 9 2 6 3 3 4 2.5 21 5.5 27 1 12-0.5 18-2.5 18-0.5 6-1.5 9-5 15 3.5 2-2.5 0-6 2.5-12 30.5 0 4 4 9 2.5 6.5 2.5-0.5 3-6.5 3-23.5 5.5-15 2-3 1.5 2 3 7 2.5 15-0.5 27 4 6-1.5 2.5-1.5 1.5-3 1-15 3-12 29 0 0 27 2 4.5 3 1.5 3 0 12-4 9-1.5 12-1 6-2 1.5-3.5-0.5-21 539 0 0 274-21 1-36 5.5-9 0.5-10.5-2-13.5-5.5-15-1-12.5-5.5-8.5-2-9 0-18 3-18-1-6.5-3-2.5-3-4.5-12-3-3-7.5-4-6-1-6 0.5-9 2.5-18 7-9 5.5-12 4-12 6-3 0.5-6.5-3-8.5-7.5-12-4-9-6-6-2-9 0-24 2.5-30 7.5-3-1-6-5-12.5-17.5-5.5-4.5-3-1-3 0.5-3 2-3 3.5-9 20.5-3 3-10.5 6-25.5 10-6 0-12-1.5-15 0.5-10-3-11.5-6-4-9-4.5-3.5-6 0-9 4.5-3 0.5-6-2-8.5-8.5-9.5-7-5.5-11-3-3-6.5-1.5-6 0.5-9 4-5 6-7 12-6 5-6 2-15 1.5-6 0-15-2.5-6 1.5-6 4.5-21 20.5-6 2.5-12 2.5-4.5-1.5-5.5-12-4.5-6-8-6-11-6-3-3-5.5-9-3-2-3-1-9 2.5-3-0.5-6.5-5-4.5-6 2.5-9-1.5-3-2-2-18-7-6-1-3 1-3.5 6-1.5 6-1.5 12-6 12-2 18-2.5 3-4 1-12-2-6 0-6 2.5-15 9.5-3 0-9-1.5-3 0-3 1.5-4.5 4-3.5 6-0.5 3 2 3 10 6 7 12 7.5 8 6 11 6 5.5 6 1 12-7 3-0.5 3 0.5 9 5.5 6 1.5 9-0.5 9-4.5 3-0.5 3 1 2.5 3 1.5 3 0.5 3-1.5 3-14.5 12-2 3 0 3 2 6 4.5 6 17 9 9 12 2 4 0.5 5-1 6zM1056 424l1-3-1.5-3-3.5-1-3 1-1 3 1.5 3 2.5 1.5 3-0.5zM971 430l3-1.5 1-1.5-7-2-2.5 2 2.5 2zM710 499l4-3 1-3-2-1.5-3 0-1.5 1.5-0.5 3zM386 564.5l-2-2.5 2-1 2 1zM506 665l-3 0-1-4 1-3.5 3-0.5 2 1 0.5 3zM569 685l-35.5 0-0.5-9 1-3 2-2 15 1 3-2 3-4 3 0 9 5.5 3 4.5-1.5 9z"/>
<path fill="#ffe500" d="M419 685l-249 0 0-405 153 0-3 6 0 5.5 3 3 3 0.5 7.5-3 1-3-7.5-9 26.5 0-9.5 9 1.5 3 4.5 1 6-1 4.5-3 1-3-1.5-6 48.5 0 2.5 12 2 4.5 3 3.5 6 2.5 21 6.5 27 2 30-4 24-0.5 12-2.5 6 1.5 9 5 9 2.5 21 0 24 2.5 9-1.5 3-2.5 6-22.5 0.5-9 22.5 0-0.5 27 2.5 6 2 2 3 1 6-1 12-5.5 18-1.5 6-1 3-3 1-3-1.5-12 0.5-9 537 0 0 272-21 1.5-35.5 5.5-9.5 0.5-11-3.5-10-7.5-15 0.5-17-5-7-1-27 1.5-18-2-3-1-3-3.5-2.5-9-3.5-4.5-9-4.5-9-1-9 1.5-14.5 5.5-12.5 3-10 6-11 4.5-7 4.5-5 1-3-1-12-11-12-4-12-5.5-9-0.5-21 1-21 3.5-15-0.5-6-3-6-4.5-12-14-6-2.5-3 0-6 5-4.5 9-5 12-5.5 6-5.5 3-14.5 6-13 3.5-15-1-18 1.5-3.5-1-4.5-3-5-6-6.5-12-11-9-1-3 11-15 2.5-6-1-3-3.5-3-7.5-2-7.5 2-3 3-1 3 1 9 4.5 12-2 3-4 2-6 1.5-3-0.5-15-6-3.5-3-3.5-9-2-3-6-2-9 1-9 3-6 4.5-9 15-6 5.5-6 2.5-9 0.5-12 0-15-2.5-6 1-6 4-21 21.5-6 2.5-9 0.5-3-1-2-2-6-9-4-4.5-21-13.5-9-13-6-3-9-0.5-4-1.5-2-3 0-9-1.5-3-3.5-3-22-10-6-1-6 3-5.5 8-9.5 27-1 12-2 4.5-3 1.5-3-0.5-9-4-15 7.5-27 8-6 4-15 15-3 6 1.5 3 1.5 1 15 2 3 1.5 3 3.5 1 4 0 3-2 3-11 2.5-4.5 3.5-3.5 9-0.5 3 2.5 3 6-1 4-2 11-12 3-1 3 0.5 3.5 3.5 2.5 12 7.5 15 1.5 9.5 3-1.5 3-4 3-2 18-4.5 6 0 6 4 10 13.5 11 11.5 6 4.5 4.5 2 1.5 2 0.5 1-1.5 3-17.5 6-5 6-1.5 6zM566 295.5l-6-0.5-2.5-3 0-3 2.5-5.5 3-2.5 3-1 3 1.5 3 3.5 1.5 4-1 3zM1058 427l1.5-6-1-3-3.5-3-6 0-3.5 3-0.5 3 0.5 3 3.5 4 3 1.5 3 0zM974 433l9.5-3 0.5-3-5.5-3-10.5-2.5-3 0-4.5 2.5-1 3 2.5 3.5 6 2.5zM312 583l3-3-0.5-3-4.5-3-8-2.5-24-0.5-6 3-1 3 1 4 2 2 4 1.5 12-0.5 15 1z"/>
<path fill="#ffde00" d="M380 685l-210 0 0-405 146 0-1 9 1.5 6 3.5 3 6 1.5 24-0.5 12-2.5 6-4 2.5-3.5 0.5-3-0.5-6 34 0 4 15 4.5 6.5 5 2.5 28 8.5 21 2.5 36-5.5 21 0.5 12-1 21 6.5 24 0 27 2.5 6-0.5 3-1 2.5-3.5 7-24 1-9 16.5 0-0.5 21 0.5 9 3 6 3 2 3 1 6-1 7.5-5 7.5-2.5 18-1 6-2.5 2.5-3 0.5-3-1.5-12 0.5-9 535 0 0 269-21 2-36 6.5-6 0-8-1.5-4-3-2-3-1.5-6 1-3 11.5-6.5 5-5.5 1.5-3-0.5-3-2.5-3-3.5-1-6 0.5-4 3.5-2.5 6-1.5 9-2.5 3-10.5 3-9 1.5-21-4.5-24 0.5-6-1-3-0.5-6-5-3.5-6-2.5-9.5-3-4-3-1-9 2-12-1-9 1-6 1.5-15 6-15 1.5-9 6.5-15 8-3 1.5-3 0.5-3-2-6-7-6-5-21-6.5-9-1-24 1-18 3-8.5-1.5-9.5-8-3-1-9-1-11.5-11-6.5-2.5-3 0-3 1.5-3 3-12 24-6 5.5-6 3.5-15 6-6 1.5-6 0-6-1.5-9-4-3 0-6 4-3 0.5-3-0.5-3-3-18-26 0.5-6 6.5-12-0.5-6-2.5-3-5.5-3-10.5-2.5-6 2-12 6-30 3.5-18 6-8 6-8.5 15-4.5 4.5-3 1-6 1.5-6 0-12-1-12-2.5-9 0-6 4-6 7.5-15 15-6 3-6 0.5-3-1-3-2.5-10-12-20-12-12-16.5-11.5-7.5-6-9-4-3-26.5-12.5-6-1-5 1.5-4 3-4.5 6-11 18-5.5 6.5-3 2-11.5 3.5-9.5 5.5-6-0.5-1 1-0.5 6-6 6-19.5 9-12 11-15 10-6 0-6-2.5-3-0.5-7 3-5 1-18 0-3 1.5-2.5 3.5-0.5 3 1 6 2 3 6 4 15 0.5 15 2 15 0 3 0.5 2 2 0.5 3-0.5 6-5 15 0 3 2 3 4 1 9 0 4.5 2 2 3 0.5 12 1 3 4 3 3 0 9-2.5 3 0 18 6.5 2.5 2 1.5 3 0 6-3.5 15zM1057 433l4.5-6 0.5-6-1-3-2.5-3-3.5-1.5-6 0-3.5 1.5-2.5 3-1 3 2.5 6 4.5 5 3 1.5 3 0.5zM986 433l3.5-3 0-3-4-3-9.5-3-8-1.5-6 0-4 1.5-2.5 3-0.5 3 2 3 4 3 4 1.5 9 0.5zM1031 448l0-3-2.5-3-3.5 0.5-1.5 2.5 1.5 3.5 3 1zM689 506.5l-3 0.5-2-2 1.5-3 3.5 0 1 3zM413 651l-12-0.5-9-1.5-4-3 0.5-6 2-3 5.5-3 5-1 6 1 3.5 3 3 6zM410 685l-4.5 0-1.5-3-2-6 1-6 10-15 3-3 3 1 6 4 1 4-7 9.5-7 14.5z"/>
<path fill="#ffd700" d="M365 685l-18 0 0-6-1.5-6-4.5-5-3 0-3 5-1 12-164 0 0-405 142 0-0.5 9 1 6 2 3 4 3 7.5 1.5 21 0.5 12-1.5 10-3.5 14-9.5 3-1 9-0.5 3 1 3 2 6 11 3 4 3 1.5 15 2.5 15 5.5 12 2.5 15 1 33-5.5 9-0.5 24 1 12 3.5 9 1.5 27 0 27 2 6-0.5 4.5-3.5 4.5-15 5-12 0.5-9 9 0 0.5 21 2 12 1 3 3 3.5 3 1.5 6 1 6-2.5 6-4.5 6-3 21-2 6-3 2-3 0.5-3-1.5-12 0.5-9 532.5 0 0 264.5-9-1-18 6-12 3-18 2.5-9-0.5-3-1.5-2.5-3 0-3 1.5-3 11.5-12 3-6 0-3-1.5-3-3-2.5-6-1.5-6 0.5-3 1-3 2.5-7 15-5 4-6 2.5-9 0.5-21-3.5-24 0-6-2.5-3.5-4-3-6-3-12-2.5-4-3-1.5-12 2.5-21 1.5-6 1.5-11 6-4 1-15 0-3 1-9 8-15 6.5-3-0.5-12-12-6-4-48-2-21 3-6-2.5-9-10-3-2-12 0-12-8.5-6-1.5-6 1-3 2.5-12 24-3 4-5 4-7 4-9 4-9 2-6 0-8.5-4-6.5-6.5-3-0.5-9 2.5-3-0.5-6-3.5-5.5-6.5-4.5-9-0.5-6 5-12-0.5-6-2-3-4-3-9-4-6-1.5-6 1.5-12 5.5-12.5 1.5-17.5 3.5-21 8-7.5 6.5-8 15-5.5 4-6 1.5-6 0-24-6-6 0.5-6 1.5-6 4.5-6.5 9-11.5 11.5-6 3.5-3 0.5-6-2.5-12-12-15-8-6-4.5-12-18-12-12.5-10.5-6-13.5-5-12-6.5-7.5-0.5-7.5 3-3 3-18 22-6 5.5-12 4-15 0-3 1-3 4.5-1.5 11-1.5 3-6 4.5-30 11-27-3-12 2-21 1-7 2.5-3.5 3-3.5 6 0.5 3 7.5 7 3 4 6 11.5 5.5 4.5 6.5 1.5 15 0.5 21 5 3 1.5 1.5 3.5-4.5 15 0.5 6 1.5 3 3 3 12 3 3.5 3 3 15 3.5 4 3 1 6 0 12-3 6 1 6 3 2 3 0.5 6-5.5 12zM1060 439l4.5-12 0-6-1.5-3-2.5-3-5.5-3-6 0-6.5 3-2 3-1 3 1.5 6 2 3 6 6.5 6 4.5 3 0zM983.5 436l8.5-3 1-3-1-4-2-2-4-2-15.5-4-8.5-1-6 1.5-4.5 2.5-2 3 0.5 3 2 3 10 6 9 1.5zM1082 433l-3-1.5-0.5 1.5 0.5 1zM1035 451l0-6-1-3-3-3-3-0.5-3 0.5-3.5 3-1 3 0.5 3 4 4.5 6 1.5z"/>
<path fill="#ffcf00" d="M323 685l-153 0 0-129.5 6-2.5 3-3 1.5-3-1.5-6-2-3-4-2.5-3-0.5 0-255 67.5 0 2 6 2.5 2 3 0.5 3.5-2.5 2-6 57.5 0-0.5 9 1.5 6 4.5 6 6.5 4 21 2 12-1 15-3.5 15-6.5 9-0.5 6 2 7.5 9.5 4.5 3 15 0.5 21 7.5 18 3 30-2.5 12-3 9-0.5 21 1.5 15 4 36 0.5 30 1.5 3-0.5 3.5-3 3-12 2.5-6 3-3.5 3-1.5 3 4 2.5 13 2 6 4.5 4 9 2 6-1.5 8-7.5 4-2 6-1.5 15-1 4.5-1.5 4-3 2-3 0.5-3-1.5-12 1-9 529.5 0 0 255.5-7.5-3.5-4.5-0.5-3 2-7 10.5-5 3-15 4-12 1.5-6-0.5-4.5-2-0.5-3 10.5-15 2.5-9-0.5-3-4.5-4-6-2-6-0.5-6 1-4 2.5-8.5 15-3 3-5.5 3-6 0.5-24-2-24-0.5-6-4-2-3-2.5-6-4-18-3.5-5-3 0-7.5 5-4.5 1.5-27 3-12 7.5-3 1-6 0.5-6-1.5-6 1-12 10.5-6 2.5-6 1-5.5-3-9.5-10-6-3.5-6-1-24 2-6-0.5-6.5-2-2.5-3 4.5-9-1-3-3.5-1.5-6 1-3 3.5 2 9-4 3-10 3-3-0.5-4-2.5-14-17.5-3-0.5-6 3.5-3 0.5-12-5-9-1-6.5 2-11.5 23.5-8.5 9.5-9 6-6.5 3-12 2-6-2-3.5-3-4-6-4.5-3-15 2.5-6-3.5-5.5-8-2-6 4-15-0.5-6-1.5-3-6.5-5-9-4.5-6-2-6 1.5-12 6-30 5.5-21 8.5-7 5-8 15.5-3 3.5-4 2-5 1-6-0.5-15-5.5-6-1-9 0.5-9 2-5 3.5-7 10-11.5 11-3.5 2-3 0.5-6-3-9-8.5-15-7.5-7-4.5-4.5-6-9.5-17.5-5.5-6.5-12.5-6-18-7-9-5-6-1.5-6 0-4 1.5-5 3-21 21.5-6 5-9 3-15 1-6 2-3 4.5-3 14-2.5 3-3.5 2-6 2-27 4-9 0-15-2-12 4-6 1.5-18-1-6 0.5-6 2-3 2.5-8 11.5-1.5 6 0.5 3 3 7 3 2 9-2.5 6 1 3 2.5 8.5 11 3.5 2.5 6 2 12 0.5 5.5 1 12.5 6 3.5 3 0.5 3-0.5 12 2.5 7.5 4 4.5 11 5.5 3.5 3.5 0 6-3 12-1.5 12 0.5 15zM973.5 439l12.5-1 6-1.5 3.5-3.5 0.5-3-0.5-3-3.5-4-6-3-21-4.5-18 0.5-9-5.5-13.5 13.5-2 3 1.5 3 2 0.5 9-1.5 6 0.5 6 1.5 15 7zM1044 457l5-4.5 12-1 3-1 9-6 9-2.5 3-3 1-3 0.5-3-1.5-4.5-3-2.5-3-1-9 1.5-4.5-8.5-2.5-3-5-3-9-1-6 2-3 2-2 3-0.5 6 2.5 9 6.5 9 0.5 6-1 2-3-1-6-10.5-3-2-3-1-6 1-3 1.5-3 4-0.5 3 2 6 4.5 4.5 3 1.5 9 2zM207 568l1-3-2-1-3-0.5-3 1.5 0 4 3 0.5z"/>
<path fill="#ffc800" d="M224 554l-3 0-3-1.5-6-7-3-1-9 1-3-2-2-5.5 1-9-0.5-3-2.5-3-8-2.5-15 1 0-241.5 54.5 0 3.5 6 5.5 6 5.5 3.5 6 1.5 6-0.5 3-1.5 3-5 2-10 25.5 0-2.5 6 0 6 2 2 3 0 4.5-2 2.5-3 1-3-4.5-6 10 0-1 6 0.5 3 4.5 6 8 9 7.5 3.5 18 2.5 6 0.5 24-4 15-5.5 6-1 6 2 9 9.5 3 2 6 1.5 12-1 21 7 15 2.5 33-1 21-4.5 18 1.5 15 3.5 51 0.5 21 1.5 3-0.5 4.5-2.5 1.5-12 1-3 2-3 3 0 4.5 18 3.5 3 4 1.5 9 1.5 6-1 3-1.5 6-7 6-3.5 18-2.5 7.5-2.5 4-3 2-3 0.5-3-1-9 1.5-12 525.5 0 0 247.5-9-2-6 1-4 2.5-5.5 12-3 3-8.5 3.5-12 1.5-6-0.5-2.5-1.5-0.5-3 7.5-15 1.5-6-0.5-3-1.5-3-3.5-3-9.5-2.5-9 0-8.5 2.5-3 3-6 12-6.5 4.5-6 1-30-1.5-12 0.5-6-1-3-1.5-3.5-5-2-6-1.5-15-2-6.5-6-11.5-3-1.5-3 3-6 10.5-3 2-9 2.5-21 2-5.5 2.5-7 6-5.5 0-6-1.5-6 1-4.5 3.5-7.5 8-3 2-6 1.5-6-2-9-10-9-5.5-9-1.5-18 3-5.5-1.5-0.5-3 2.5-9 0-3-3.5-3-8-1.5-15 1.5-5 3-4 6-3 2-3-1.5-3-3-9-13-3-2.5-3 0-3 1.5-9 7-21-2-6 2-2 3.5-4 14.5-6 8.5-14.5 13-3.5 2-9 3.5-6 0-5-2.5-5-9-3.5-3-7.5-0.5-9 2-3 0-3.5-1.5-4.5-6-2-6 2.5-15-0.5-6-1-3-3-3.5-15-8.5-6-2.5-3 0-3 0.5-12 7.5-30 5.5-9 3-12 6-6 3.5-3 3.5-7.5 15-4.5 4-6 1.5-6-1-3.5-1.5-8.5-6.5-3-0.5-24 3.5-6 2-7.5 4.5-3.5 3-8 12-5 2.5-6-2.5-8.5-6-15.5-6-6-4.5-5-7.5-7-18-3-3.5-3.5-2.5-29.5-10.5-12-6-9-1.5-6 1-6 3-24 21-6 4-9 2.5-15 2-5.5 2.5-3.5 6-2.5 12-1.5 3-5 3-6 1.5-27 2-3-0.5-4.5-3-1.5-3.5-3-2.5-7.5 6-7.5 4.5-6 3-6 1-9 0-15-5.5-9 0-3 1-9 14.5zM992.5 439l4-3 2-3 0-3-3-6-3.5-3.5-6-2-33.5-6.5-4.5-3-4-6-3-1.5-3 0.5-3 1.5-8 11.5-8.5 9-1.5 3 0 3 2 3 4 2.5 18-2 6 1.5 15 5.5 6 1zM1041 466l23-5 21-16.5 3-5 1-3.5-1-6-3-5-3-2-9-2-3-1-9-8-6-2-9 0.5-4 1.5-4.5 3-3 6-1 9-2.5 2-9 4-3 2-2.5 4-0.5 3 3 8 12 12 6 1.5zM899 454l-6-6-3.5 0-0.5 3 1 3.5 6 2.5zM920 460l-1-3-2-1-3-0.5-7 1.5 1.5 3 5.5 1.5 3 0.5zM966 469l6-3 1-3-5-1.5-4.5 1.5-1.5 3.5 2 2.5zM993 463l-1-1.5-3-0.5-3 2 3 3 3-1zM941 481l1.5-3-1.5-0.5-3 0.5zM235 526l4.5-9-0.5-4-3-2.5-4 0.5-6 6-1 3 2 7 3 1.5 3-0.5zM542 523l-0.5-3-3-3-2.5-1-3 0.5-0.5 3.5 3 3 3.5 1zM317 685l-14 0-1-1.5-0.5 1.5-131.5 0 0-123 9-3 6 0.5 3 3.5 2 11 1 2.5 3 2.5 3 1 3 0 15-5 6 0 3 2 2.5 6 2 15 2 3 5.5 3.5 6 1.5 3-0.5 3-1.5 2.5-3 0-3-2-9 0.5-3 2-2.5 3 0.5 6.5 8 5.5 4.5 21 3 3.5 1.5 4 3 4.5 6 4 12 3 6 5 6.5 7.5 5.5 2.5 3 0 3-1 5-3 9.5-5 9.5-0.5 3 2.5 3.5zM285 619l1-3-1-3-4-3-9-1.5-4 1.5-1.5 3 2.5 4.5 6 3.5 6 1z"/>
<path fill="#ffc100" d="M1199 544l-6 1-6-1.5-1-2.5 0.5-3 6-15 0-3-1-3-4.5-4-4.5-2-7.5-1.5-12-0.5-11 2-3.5 3-3.5 9-3 3.5-3 1.5-3 0-9-3-3 0.5-9 3.5-15-0.5-12 1.5-3-1-3-2.5-3-6.5-1-15-5.5-18-0.5-9 1.5-12 2.5-6 9-9.5 5-8.5 1-6-1-6-3-6-5-3.5-9-2.5-12-7-9-2.5-9 1.5-8.5 5-2 3-2 9-2.5 3-9.5 6-3 3-1 3-0.5 3 1.5 6 7 12 0.5 3-0.5 6 11.5 1.5 15-1.5 3 0.5 2 2.5 0 6-4 12-2 3-5 3-9 1.5-12-0.5-7-1-4.5-3-2.5-6 1-3 10-12-3-1.5-12 0-6-16-3-3-3-1-12 3-15-1.5-6 4-6 7.5-3 2-3 1-16.5-0.5-1.5 1-1 14-2.5 3-5.5 1.5-42 0-3-2-2-2.5-1-18-3-3.5-3-2-3 0-3 3-4 11.5-2 3-9 7.5-6 2-18-1.5-6 2-2 2-1 3 0 12-3 6.5-6 5-7.5 3.5-6.5 9-3.5 3-6.5 2.5-3 0-5-2.5-1.5-3-0.5-9-2-2-12 0.5-12 2.5-3-0.5-3-2-3-4.5-1-3 1.5-18-1-6-2-3-21.5-13.5-9-2-3 1-5 5.5-5 3-35 7.5-18 9-6 4-2.5 3.5-6.5 14.5-3 2.5-3 1.5-6.5-0.5-4-3-0.5-3 1.5-6 0-3-11.5-11-3-1.5-3 2-0.5 1.5 0.5 9-1.5 3-4.5 2.5-9 2-21 3-6-2-6-3-6-1-3 1-2 3.5-2.5 12-4.5 2-9-1.5-7.5-3.5-6-6-4-9-3.5-14.5-3-3.5-6-3-27-7.5-15-8-6-1-9 1-6 2.5-24 19-6 3.5-12 4-15 2.5-4.5 2-3.5 6-1.5 9-2.5 6-3 3-6 2-18 1-6-1-4-2-5-12.5-3-0.5-3 1-9.5 12-8.5 6.5-9 3-9-1-5.5-2.5-5.5-6-7-16.5-6-8.5-6-3.5-15-4-3 1.5-9 12.5-6 6-3 0.5-15-1.5-15 0 0-235.5 18 0 0 6 3 6 5 3 10 2.5 9 1 12 0 15 3.5 27 3 9-0.5 21-5 3 0.5 9 7 6 3 21 4 6 0 24-3.5 15-4.5 6-0.5 4.5 1.5 7.5 8 6 3 6 1 9-1.5 6 0.5 18 6 9 1.5 42 0.5 15-4 6-0.5 12 1 15 4 30 0.5 30-1.5 18 2.5 12 0 15 3.5 6 0.5 9-3 12-12 6-2 15.5-2 7.5-3 4-3 2-3-0.5-12 2.5-12 521 0 0 242-12-1-11 2-2.5 3-2 12-2.5 3.5zM993 442l5-3 3-6-1.5-6-4.5-6-6-3.5-33-7-6-4.5-4-6-2-1.5-3-0.5-6 1.5-3 2.5-7 10-9 9-2.5 6 0.5 6 3 4.5 3 2 3 0.5 12-2.5 6-0.5 6 1 18 6zM837.5 430l6-3 2.5-3-4-3-6-2-3 0-3 1.5-2.5 3.5-0.5 2.5 1 3.5 2 1.5zM927 466l-2-9-2-4-3-2.5-15-1.5-12-9-3-1-3 0-2.5 3-2 6-0.5 6 1 3 3.5 3 30.5 7 9 0.5zM974 524l-6-1-10.5-12-15.5-9-2.5-3 0.5-3 4.5-3 5.5-2 15-4 3-2.5 6-7 6-0.5 3.5 1 2.5 3 3-3 12-2.5 1.5 2.5-0.5 6-3.5 3-3.5 0-9-6-3 0.5-7 5.5-2 3-1 3 0.5 6 2.5 3 4 0.5 12-6 3 0.5 2 5-1.5 3-9.5 6-6 9-3 2.5zM777 517l5-3 0-3-3-4-3-1-3.5 2-2.5 9zM287 685l-117 0 0-115.5 6-1.5 3 0 2 3 1 6 2 3 13 8.5 3 0.5 3-1 9-6 3-0.5 3 1 3 4.5 0.5 14 2 6 18.5 16 3 1.5 3 0.5 6-1 3 0.5 9 4.5 18 5.5 5.5 2.5 3 3 4 15 0 6-6 15-1.5 9z"/>
<path fill="#ffb900" d="M278 536l-9 0.5-6-3-4.5-4.5-7.5-18-6-8.5-6-5-18-8-3 0-3 2.5-8 13-7 5.5-6 1-24-0.5 0-225 6 3 9 8 6 2.5 27 5.5 24 2.5 18 3 12 0.5 18-4.5 9-1 15 6.5 24 6 48-4 12 6 6 2 9 1 15-1 18 5 9 1.5 24-0.5 18 1 21-3 9 1 15 3 15-1 18 1.5 30-3 45 8.5 9-1 6-2.5 5.5-4.5 6.5-8.5 3-1.5 22.5-5 8.5-3 5-3 1-3-1-12 2-12 517 0 0 236.5-24-1-27-8-12-1.5-18 0-15-4.5-4 0.5-17 6.5-15 9-9 6.5-6 1.5-3-1.5-2.5-4-1-15-4.5-15-1-6 0.5-6 2.5-7.5 3-7 8-12.5 3-9 0-6-1-6-3-6-4-4.5-3-1.5-9-2.5-12-6-6-1.5-9 0-10.5 4-3.5 3-2 3-3 9-11.5 9-2.5 3-1.5 6 5 15-0.5 3-3 2-3 0-3.5-2-9.5-15 0.5-3 6-9 0-3-2-6-4.5-6-3.5-3-4.5-2-15-2.5-16.5-4.5-4-3-6.5-9.5-6-1.5-6 2-4 3-8 10.5-11 10.5-2.5 6 1 15-2.5 1-3-0.5-15-10.5-6.5-2-2.5 3-3 12.5-3 7-3 1-6-2-3 0-3 2.5-3 5.5-4.5 12.5-5 6-5.5 3.5-3 0.5-18-1.5-9 2.5-3 2.5-2 4.5 2 10 0 5-3 5-6 3-6 0-3-2-9-10.5-6-2-4.5 0.5-4.5 2-6 10-3 2-12 3-3 0.5-3-1-3-5-0.5-20.5-2.5-7-3-3-10-5-8-6.5-10-5.5-5-6-3-2-3-1-3 1-2 2 0 3 3.5 9-0.5 3-3 3-7.5 3-29.5 5.5-18 10-7 5.5-3 6-3 9-2 2.5-3 1.5-4.5-1-1.5-3 2-9-1.5-3-15.5-13-3-1-3 0.5-3 1.5-2 3-1 12-3.5 3-8.5 2-15 0.5-6-1-9-4-6-0.5-3 1-3 2.5-6 14.5-3 1.5-6 0-6-2.5-6-6.5-3-7.5-2-15-4-5-6-3-15-2.5-14.5-4.5-15.5-7.5-9-1.5-12 3-24 17.5-6 3.5-15 5-15 2.5-3.5 1.5-2.5 2.5-1.5 3.5-3 15-4.5 4-9 2-15-0.5-4-2.5-1.5-3-2.5-9-1-2-3-1.5-6 2.5-3 2.5-9.5 13.5-5.5 4zM642.5 349l-1.5-1.5-1 1.5 1 1.5zM834.5 436l10.5-3.5 12-2 9-3.5 12-3 0.5-3-2-3-4.5-3-6-1.5-6 0-12 3-12-2-6 1-3.5 2.5-3.5 6-1.5 6 0 3 2.5 4 3 1.5zM947 463.5l-9 1-3-1-3-2-5-10.5-0.5-3 0.5-3 5-3 9-1.5 9 2 5 2.5 4 3 0 3-2 3-7 8zM980 451l-3-1-1.5-2 4.5-1.5 5 1.5zM911 484l-15 1.5-6-0.5-6-1.5-3.5-2.5-2-3-0.5-3 1-6 2-2.5 3-1.5 6 0 29.5 7 3 3 0.5 3-1.5 3-4.5 2.5zM1181.5 481l-0.5-3.5-3-2-3-0.5-7 3-2.5 3 9.5 3 3-0.5zM1037 494.5l-6 1.5-9-2-2-1-1-3 0.5-3 2.5-3 6-3 9 0.5 4 2.5 1 3-0.5 3-1.5 3zM1199 538.5l-3 0.5-1.5-1 0-3 1.5-3 3-1 3 4zM275 685l-105 0 0-89.5 9-6.5 6 0 3.5 3 1.5 3 0 12 4 5.5 6 1.5 15-0.5 6 3.5 7 11 8 9.5 1.5 5.5-1.5 9 1.5 6 4.5 5.5 6 4 3 0.5 6-1 8-6 1.5-3 0.5-9 2.5-6 2.5-2 3-0.5 4.5 2.5 2 3 0 3 0 15-2.5 12z"/>
<path fill="#ffb200" d="M275 535l-6-0.5-3-1-4.5-4.5-7.5-18-9-12-6-4.5-13-7.5-5-2-3 0-4 2-2 2-6 12-6 5.5-6 1.5-24-1 0-210 18 7.5 27 5.5 33 4 24 1 15-3.5 9-1 45 12 30-2 6 1 15 5.5 36 0 24 4 54 1.5 5.5 1.5 2.5 3 2.5 15 1.5 2 3 1.5 3-3.5 2-6 3-6 3-3 4-1.5 18-2.5 18 2 9 0 6-1 12-3.5 12-0.5 12 3.5 7.5 3.5 2.5 3 0.5 12 1.5 3.5 3 1 6-0.5 3-2 2-2 4.5-9 14.5-8.5 3.5-3.5 6.5-9 3.5-3 34.5-7 4.5-2 1.5-3-2-15 1.5-12 513.5 0 0 231-24-1.5-15-6-9-2-24 1-6-0.5-5-3-4-4-9.5-5-6-9-5.5-3-6-0.5-3 0.5-2.5 3-3.5 10-3 2.5-15 19-3 3.5-3-0.5-1.5-10.5-5.5-12-1.5-9 2.5-7.5 10.5-10.5 3-12 0-9-0.5-9-2.5-9-3.5-6-4-3.5-3-2-12-3-12-5-6-1-9 1.5-12 5-3 3.5-4 10.5-5 4-9 4.5-3-2-6-9.5-6-7-6-2.5-15-2-15-5-5-4.5-4-7-3-2.5-3-0.5-9 2-6 4-9 11-13 11-3 9-2 2.5-5-2.5-13-12-12-6.5-9-1-15 2.5-15-1-7 3-5 6-4.5 9-0.5 6 3.5 6 4.5 3 3-0.5 12-7 6-1.5 6 0.5 6 2.5 2 3-1 6-8 21-5 6-6 1.5-5-1.5-7-4-3-1-3 0.5-15 7-3 3-1.5 3.5-0.5 6 3.5 12-1.5 4.5-3 1.5-3-0.5-3-1.5-9-10-6-2.5-6-0.5-12 1.5-3 3-3 7.5-3 3-6 1.5-3-1-3-11-1-16.5 1-2 9-3.5 2.5-3.5 2.5-6 0.5-3-2-3-3.5-1.5-3 0.5-9 4-1 3 0 9-5 1-3.5-1-5.5-3-6-6-9-6-6.5-9-5.5-2.5-6 0-6 2.5-2 3 0 6 3.5 9-1 3-3.5 3-9 2.5-18 2-9 2.5-18 11.5-9 7.5-12-6-12-9.5-6-0.5-4.5 2-3 3-2 3-1 9-3 3-7.5 1-12-1-12-5-9 0.5-3 1-4.5 3.5-7 15-3.5 2-3 0-6-2.5-4.5-5.5-2.5-9-0.5-12-1.5-4-3-3.5-6-2.5-15-2-15-3.5-18-8.5-6-1-6 0.5-6 1-6.5 2.5-23.5 16.5-6 3-12 3.5-15 2.5-6 1.5-3 3-1.5 3-2 15-2.5 3-3 2-12 1.5-6-0.5-3-1.5-3-4.5-0.5-9-1.5-3-4-2-3 0.5-6 2.5-3 3-7.5 11-5 6-5.5 4zM700 388l4.5-3 1.5-3-2-3-6-2-6 0-6 0.5-3 1.5-1 3 0 3 2.5 3 7.5 1zM566.5 430l8.5-2.5 7-0.5-1.5-3-2.5-1-4.5-5-3.5-6-1.5-15-2.5-6-3 3 0 4.5 2.5 10.5-1.5 3-4 2.5-12 3.5-2.5 3 0 3 1.5 3 4 3 6 1zM636.5 424l-1.5-3-6-0.5-2.5 0.5 0 3 2.5 1 3 0zM947 457.5l-6 2-3-0.5-3-1.5-2.5-6.5 0.5-3 5-3 3 0 7.5 3 1.5 3-0.5 3zM1007 453l-3-5 0-1.5 3-2 1 6.5zM905 481.5l-9 1.5-8.5-2-3.5-3-1-3 0.5-3 3.5-3 6-0.5 13.5 3.5 6.5 3 0.5 3zM1189.5 490l2.5-3 1-3-1-6-6.5-6-7.5-2.5-3 0-24 7.5-2 1-1.5 3 1 3 2.5 3 6 2.5 24 3 6-0.5zM230 685l-60 0 0-75 9 1 6 3.5 9 8.5 3 1 12-4 6 2 2 3 0.5 3-3.5 12 0.5 6 5.5 12 2.5 9 4.5 6 2.5 6 1.5 6z"/>
<path fill="#ffab00" d="M278 532.5l-6 1-6-2.5-4.5-5-7-18-6.5-9-6-5.5-18-11-6-1-6 2.5-2.5 3-5.5 12-4 3.5-3 1.5-27-1 0-195 12 5.5 15-0.5 15 2.5 15 0.5 18 5 27-1.5 18-3 9 0.5 24 5.5 14.5 5.5 6.5 3 6 6.5 3 1 3-1 9-6.5 6-1.5 21 4.5 36-1 39 2.5 12-0.5 19 2 6.5 3 1 6-1.5 9 1.5 3 8 9 1 9 1.5 3 2 1.5 3 1 9-2 6.5-3.5 2-3 3.5-12.5 3-2 9 1 3-1.5 1-3-1-3.5-3-2.5-9-1.5-2-1.5 0.5-3 5-3 17.5 0.5 18-1 6-2 12-5 9 0 12 3.5 5 4 1.5 3 1 12 1.5 3 3 1.5 3 0.5 9-2.5 6-5 6-8 12-8.5 9-13 3-2.5 6-2 18-3.5 12 0.5 4.5-2.5 2.5-6-2-15 0.5-12 510.5 0 0 219-3-1-18-11.5-12-14-3-2-18-5-6 0-15 5.5-15 1-9 2-9-1-6-2.5-4.5-4.5-5-9-8.5-6.5-2-2.5-8.5-24-4.5-6.5-6-4-12-2.5-15-5-6-0.5-9 2-6 1.5-6 3.5-3 5-2 6.5-4 4.5-6 3-3 0-3-2.5-12-14-6-2-15-2-12-3.5-6-4.5-6-10.5-3-1.5-3-0.5-6 1.5-6 2-4 3-11 12.5-18 10.5-6-1-13.5-7-10.5-3.5-9-0.5-12 2-12-0.5-6 0.5-7.5 5-13.5 17-6.5 4-1.5 3-0.5 9-2 6-2.5 3-5 2.5-21 1.5-6-2.5-4.5-4.5-4-6-3.5-21.5-3-4-2-1.5-7-0.5-3 0.5-5 3 0.5 3 1.5 1 3 4.5 5 12.5-0.5 3-4 3-3.5 0-15-3-3-2.5-3-6.5-3-0.5-13.5 3.5-13.5 0-3 2-3.5 7-1 6 3 12-1.5 3-3 1.5-9 2-27 0-4.5 2.5-4.5 6.5-12 6.5-6 1.5-6-1.5-9-8-6-1-9 2.5-12 9.5-3 0.5-15-5.5-6-0.5-3.5 1.5-17.5 11.5-8 15.5-4 1.5-3-0.5-3-2.5-3-4.5-1-6 0-15-1.5-3-3.5-3.5-9-3.5-15-1-12-2.5-6-2-15-7-9-0.5-9 1-6 2-24 15.5-9 4.5-12 3-15 1-7 2-3 3-1 3-1 15-3 4-4 2-8 1-6-1.5-2.5-2.5-0.5-3 1-9-1-3-3-2-6-0.5-6 1.5-8 7-9.5 15-3.5 3.5zM718.5 394l1.5-6-1.5-6-4.5-6-4-3-6-1.5-12 0.5-9-1-3 1.5-3 6-1.5 6.5 1 3 3.5 5 3 1.5 15 0 15 2 3-0.5zM566.5 436l20.5-1 6-1.5 4.5-3.5 1.5-3 0-3-6.5-12-1.5-6-10-5.5-3-4-6-13-3-2.5-6-2.5-6 2-2.5 1.5-1 3 2 15-1.5 6-2.5 3-9.5 6-2 3-0.5 3 2.5 9 3 3 3 2 9 1.5zM658 433l7-2 9-0.5 3-1 2-2.5 1-3-1-3-2.5-3-5.5-2-18-1.5-18 0-11-2.5-4-3-2-3-1-21.5-3-2.5-3-0.5-3.5 0.5-5 3-4 6-2.5 9 1.5 3 4.5 4 6 7 5.5 13 4 3 5.5 2 21 3 6 0.5zM698 427l3-1 2.5-5-0.5-3-2-2-6 1-5 4 0.5 3 1.5 1.5 3 1.5zM796 427l0-3-2-5.5-3-1-3 1.5-1.5 2-0.5 3 1.5 3 3.5 1.5 3 0.5zM845 470l-3 1.5-6-1.5-7.5-7-2-6 1.5-6 5.5-6 5.5-4 6-1.5 3 0 4 2.5 1.5 3 0.5 3-3 12-3 6zM773 482l-3 0.5-4-1.5-1-3 1.5-3 3.5 0 3 3 1 3zM899 478l-6 0.5-1.5-0.5-2-3 3.5-2.5 3 0.5 4 2zM1091 495l-3-0.5-3.5-4.5 0-6 3.5-3 3 1.5 2 4.5-0.5 6zM200 679.5l-3 1-3 0-12-5.5-12-1.5 0-56.5 9 1.5 4 3.5 2.5 6 1 9 2 3 2.5 1.5 3 0 6-1 3.5 2.5 1.5 9-1 21-1 3z"/>
<path fill="#ffa200" d="M1235 485l-12-2.5-6-2.5-6-5-9-9.5-6-2-18-2.5-3 0.5-9 5-6 2-15-0.5-12 2.5-9-2.5-5-5-5-9-11-10.5-12-25-3-4-6-4-12-1.5-12-3.5-6-1-15 2.5-7 2-4.5 3-5.5 12-2.5 3-4.5 2-3-0.5-3-2.5-12-13-6-1.5-15-1.5-12-4-3.5-3-2-3-4.5-9-2-2-3-0.5-6 0.5-9 3.5-6 4-12 12-9 4.5-6 2-9-0.5-15-6.5-9-2-21 2-12-1-6 2-12 9.5-6 3.5-3.5-1-8.5-13-3-2-3 0.5-6 3.5-3 4-2.5 10 0.5 3 2 3 8.5 6 2 3 1 3-0.5 6-2 3.5-4 2.5-5 1-9 0-6-2-5-5-2-6-2.5-15-4-9-4.5-3-15-4.5-5.5-4.5-2-6-1.5-12.5-2.5-8.5-4.5-6-5-4-9-3-12-0.5-6-3.5-3-0.5-3 2-3 5-6 16.5 1 6 6.5 12-2.5 3-8 3-6 0.5-9-1-18 3-6-1.5-3-1.5-3-3.5-2-5-0.5-18-3.5-4-6-0.5-6 2-5 2.5-10 8.5-3 0.5-3 0-3-2.5-12.5-18.5-1-6 1-9 2-6 4.5-3 15-3.5 12-7 9-0.5 8.5 2 4.5 3 2.5 6 1.5 12 2 3 2 1.5 6 0.5 9-3 6-3.5 9-9 9-7 5-6.5 5-9 3-3 8-3 12-2.5 6 0 9 2 3 0 3-2 2.5-3.5 1.5-6-1.5-18 0-9 507.5 0zM281 529.5l-6 2.5-3 0-6-3-4-6-5-14.5-6-8.5-9-9-18-12-9 0-5.5 2-2.5 3-4.5 12-2.5 3-3 1.5-6 0.5-12-2-9 0 0-164 6 2.5 6-1 8-11.5 4-2.5 6-1.5 27 0.5 23.5 9.5 3.5 2.5 3 0 4-5.5 8-3 21-1 12 1 6 2 12 6.5 6 0 6 1 4 2.5 7.5 9 6.5 2.5 6-0.5 12-4.5 12-2.5 15 1.5 60-3 21 2 5 1.5 0.5 3-4 9-2.5 15-4.5 9-0.5 3 1.5 3 4.5 0.5 15-3.5 3 1 9 7.5 6 2 12 0.5 9-5.5 6-1.5 6 1.5 6 4 2.5 5.5-1 6-4.5 4.5-11 4.5-1.5 3 2 9 4 9 3.5 4 3 2 6 2 9 1 27-2 21-5 21 3 15 4 6-1 9-3 6-1 4.5 2 2 3 1 3-1.5 12 0.5 9-1.5 3-2 1-9 1-18-4-18-0.5-4.5 2.5-5 12-2.5 3-3 1-3-1-6-5-3-0.5-9 1-18 6.5-18-3-9 0.5-3 1.5-15 10-5 7-4 8-3 3.5-3-1-3-4.5-0.5-6 0.5-15-1.5-3-3-3-4.5-2-9-2.5-15 0-10-1.5-8-2.5-12-5.5-6-1.5-6 0-12 1.5-6.5 2-22.5 15-7 3.5-12 2-21 1-11 2.5-2 3 3.5 12 0 6-1.5 3-4 3-8 0-2.5-3-0.5-3 2.5-9-1-3-5.5-2.5-6-0.5-9 1.5-9 8-8 14.5zM413.5 370l0.5-3-4-4.5-6-2.5-4 1-1 3 1.5 3 3.5 3 6 1.5zM338.5 394l3-3 0.5-3 0-3-1-3.5-3-1.5-6-1-6 1-2 2 1.5 3 6.5 7 3 2zM776.5 394l-0.5-1-3 0.5 0 2.5zM842 466.5l-3-0.5-4.5-3-1.5-3-0.5-6 3-6 3-3 3.5-2 3 0 4 2 1.5 6-2.5 9-3 4.5zM173 661.5l-3 1 0-16.5 6 2.5 3 3.5 0.5 3-1.5 3z"/>
<path fill="#ff9400" d="M1235 479l-12-1.5-6-2.5-4-3-11-12-6-2-18-1.5-3 1-9 6-6 2.5-15-2-12 3-6-0.5-4.5-3.5-7.5-13.5-12-12-10-19.5-5-7-3-2.5-3-1-12 0-18-4-18.5 2.5-8.5 3.5-3 4-3 8-3 3.5-3 1-3-0.5-3-2-9-10-3-2.5-3-1-18-1-9-3-3-2-3.5-4-5-12-3.5-2-9 1-10.5 4-5 3-12.5 12-8 4.5-6 1.5-9 0-21-7.5-9-0.5-15 1-9-0.5-9 2.5-15 8.5-3.5-0.5-4.5-6-2.5-6-0.5-15-1-3-3-3-3-1-9 1-12 0-3 2.5-3 5.5-2.5 7-0.5 6 2 3 5 3 3 3 0.5 3-0.5 12 1.5 3 11.5 9 1.5 3 0.5 3-1.5 3-2.5 1.5-3 1-6 0.5-6-2-4-4-2-6-1-12-5-14-3-2-15-3-6-3.5-4.5-7.5-4-18-5-9-4.5-4.5-12-5-9-6-12-3-3 0-3 1-4 17.5-6.5 15 0 6 2.5 6 0 3-1 2-3 1.5-3 0.5-9-2-12 5.5-6 1-7-2.5-3-3-1-3 0-21-1-5.5-3-1.5-9 2-9 3.5-12 6.5-3 0-4-2-5.5-9-2-9 0.5-6 2-4 3-3 12-5.5 9-6 3-1.5 6-0.5 6 1.5 5 4 1.5 3 2 18 2.5 3 10-1 12-5 12-8.5 9-4 3-2.5 8-18 1.5-3 4-3 10.5-3 9-1 5 1 7 3.5 3 0.5 3-1.5 4-5.5 3-9-1.5-27 504.5 0zM278 529.5l-6 1-3-1-3-2.5-3-5.5-4.5-13.5-7.5-11-6-6.5-18-14.5-3-1-12 1-7 2-1.5 3-2.5 12-4 4-6 0.5-12-2.5-9 0 0-148 15-0.5 6-1.5 2-2 5-9 4.5-3 5.5 0 5.5 3-4 9-7.5 9-1 3 4 21 3 3 4 1 6-0.5 9-5 12-5.5 3-5 3-14 3-3 9-1.5 12-4.5 6 0 9 5 6 5 2 4 1 12 2.5 3 8.5 6 4 6 3.5 3 11.5 6 9 9 6 1.5 9-1.5 12 2 6-1 6-10 9.5-6 3-3 1-6-1.5-1.5-6-0.5-12 4-3-0.5-3-1.5-11.5-12-1-3 15.5-6 9-1.5 6 1 3 2.5 2.5 4 3.5 8.5 3 2.5 21 7.5 5-0.5 7-2 6 0.5 5.5 4.5 6.5 11 3 1.5 3-0.5 3-3-0.5-3-6.5-12-2-18 1.5-3 4.5-3 6-2 6 0.5 6 2.5 3 3.5 1.5 4.5-0.5 9-5.5 12-1 6 2.5 4 7.5 5-6 9 0 6 2 3 2.5 1.5 10 4.5 2.5 6 2.5 12.5 3 2 6-1.5 7-4 1-3-1-6-4-11-3-3-3-1-1-6 1-2 9 2.5 9-3 6 0.5 3 3 4 8 8.5 12 2.5 9 1.5 9-6.5 6-5.5 9-7.5 4-4.5 8-1.5 0.5-9 0.5-15-3.5-3 0-9 3-12-0.5-18-6.5-6-1.5-27 2.5-6 3-15 12-6 3-9 2-15-2-21 1.5-6 2.5-6 6-3 1-12 0.5-6 1-9 8-10 18-2.5 3zM332 367l-6 0.5-5.5-0.5-1-3 3.5-2.5 6-0.5 6 0.5 3 2.5zM196 382l2.5-3-5.5-3-6.5 0-7 3 1 3 4.5 2 6 0zM542 402l-3 0.5-3-1.5-0.5-4 0.5-1 3-1.5 3 1 1.5 1.5 0.5 3zM578 478.5l-9 1.5-21-3-7.5-2 0-3 4.5-9 0-3-4.5-9 1.5-2.5 3-0.5 6 2 8.5 7 6.5 1.5 5-1.5 9-9 7-2.5 9-1.5 6 1.5 2.5 2.5-0.5 3-3 12-3 6-2.5 3-5.5 3zM635 457.5l-6-0.5-12-4.5-4.5-4.5 1-3 9.5-2 9 2.5 7 5.5 1 3-2.5 3zM662 460.5l-3 1-6-1.5-3.5-3-1.5-3 1-3 2.5-3 4.5-3.5 6-1.5 3 1 2 4-2 9zM482.5 466l2.5-1.5 4.5-4.5 0-3-4.5-7.5-3-1.5-7 3-2.5 3-1 3 1.5 6 6 3.5zM842 460.5l-3-1-1.5-2.5 0-3 0.5-3 3-3 4-0.5 2 3.5-0.5 3-1.5 3.5z"/>
<path fill="#ff8700" d="M1235 474.5l-9-0.5-6-1-6-4-9-11.5-3-2.5-6-2-12-2-9 1-9.5 8-5.5 3-4 0-11-3-12 4-6-1-3-3-6-12.5-15-15.5-15-28-3-4.5-4 3.5-8 3-21-3.5-24 2.5-6 4-6 12.5-3 2-3-0.5-3-2-9-10.5-3-1.5-18-1-8.5-2-5.5-3-4-6-1.5-9-1.5-3-3-1.5-3-0.5-6 1.5-15 5-6 4-12 11-12 5-9 0-21-7.5-33 0-6 1-12 6.5-6 1.5-3.5-2-2.5-6 0-15-2-6-4-6-3-2-3 0-9 2.5-12-0.5-3 1-3 4-9 19.5-3 3-3 1.5-9 0-6-2.5-4-5.5-4.5-18-6.5-16-3-2.5-12-5-6-5.5-16-4-3-3-1-3 1-6 2.5-6 4.5-5 9-2.5 9-0.5 5.5 2 4.5 6 0 3-5.5 9 0 3 1.5 1 3 0 3-1.5 3.5-11.5 8.5-12.5 4.5-11.5 1-9-2-18 500.5 0zM596 376.5l-6 1-3.5-1.5-1.5-3-1.5-6 1.5-9 5-5.5 9-4.5 6.5-5 5.5-1.5 6 1.5 2.5 3 1 3 0 9-1.5 6-2.5 3-5 3zM275 364.5l-9 1.5-9-2-4-3-0.5-3 1-3 3.5-3 9-3.5 6-0.5 3 1 4 3 1.5 3 0.5 3-1 3zM641 404.5l-6 1-3-0.5-3-1.5-2-3.5-1-6 0.5-6 3.5-12 2-3 4.5-3 16.5-8 9-5 3-1 3 0.5 1.5 1.5 1.5 6-1 6-2.5 6-10.5 15zM458 377l-3 1.5-3-1-2.5-4.5-0.5-6 3-4 3-1 3 1 3 3 0.5 4zM281 526.5l-6 2.5-3 0-4.5-3-2.5-3-4.5-15-3.5-6-9-12-11-9-5-6-1.5-3 0.5-3 4.5-9 0-3-2.5-4-3 0.5-3 1.5-3 5-1.5 6-2 3-2.5 1.5-6 1.5-12-1-3 1.5-1 2.5 2.5 12-0.5 3-2.5 3-4.5 0.5-12-2.5-9 0 0-103 12 2.5 9-0.5 15-2.5 12-0.5 12-4.5 6-0.5 21 1.5 9 2.5 6 1 12-4.5 6-1.5 6 2 9 5.5 15 5 9 9.5 3 1.5 6 1 12-1 12 2 6-1.5 8.5-11 9.5-4.5 6-6 3-2 6 0.5 9 3 12-1 3 0 3 2 9 14 3 1.5 12-1 3 0.5 3 2 5.5 12 3.5 3.5 9 5 2.5 3.5 1 6-0.5 6-1.5 3-9 9-2.5 6-0.5 9-1.5 2-3 1-6-1-15-5-21 0-6-1-3.5-2-1.5-3 0.5-12-2.5-3-5-0.5-9 1-15-2-3 1.5-1.5 6 1.5 4.5 3 4 6 2 12-3.5 4.5 2 1.5 3-2 6-10 12-6 4-6 1-6-1-9-5.5-3 0-12 4.5-15 1.5-3 1.5-6 6.5-3 1.5-15 1-3 2-6.5 7-4 6-5 12zM779 445.5l-3.5-0.5-2.5-2-1-1 0-3 1-0.5 3 0 5.5 3.5-1.5 3z"/>
<path fill="#ff7900" d="M1235 470.5l-9 0.5-7-2-5-4-6-9.5-6-6-9-4.5-6-1-9 0.5-9 2.5-6 10-3 2-3 0-9-4.5-3-0.5-10.5 6-5.5 0-3-3-3.5-9-2-3-14.5-14.5-6-8-6-13.5-2.5-18-1-3-2.5-2-3-0.5-3 2-4 12.5-3 3-8 1-18-3-24 2-3 1.5-3 3.5-4 10-2 2-3 0-3.5-2-8.5-10.5-6-1.5-15 1-6-1.5-5.5-2.5-3-3-1.5-3 0-12-1-3-7-2-6 1-21 8-17 14-10 4.5-6 0.5-6-1-18-8-27-1.5-9 1.5-18 8-3-0.5-2-3.5-1-6 1-9-2-6-5-8.5-3-4-3-1.5-3 0-12 4-12-1.5-3 1.5-7 19-5 7-6 3.5-6 0-3-1.5-3-2.5-2-3.5-6-24 0-3 2-3 9-6 1-3-1-3-9-4.5-3-3-1.5-4.5 1-6 2-6 10.5-20.5 3-3.5 3 0 3 1.5 9 6.5 3-1 0.5-1-6.5-17-2.5-4-3.5-2-6-0.5-2.5-6.5 494.5 0zM810 328l2-0.5 3-2.5 1-3-0.5-6-3.5-2.5-3 0.5-3 2-1.5 3 0.5 6 1 1.5zM698 344l-6 0-3-1-3-3-1-3 1-7 3-4.5 3-2 9-2 6.5 0.5 4 3 0.5 3-0.5 3-7.5 10zM602 370l-6 1-3.5-1-1.5-3 1-6 4-4 9-3.5 6-3 3 1 0 6.5-3 6-3 3zM641 400.5l-6 2.5-3-1-3-4-0.5-4 0.5-6 3-7.5 4-4.5 8.5-6 14.5-8 3-1 3 0.5 2 2.5 0 3-2 7-3 3.5-12 10.5-5.5 9zM1004.5 382l2.5-3-0.5-3-5.5-2.5-6-0.5-5.5 3 0.5 3 5 4 6 1zM278 526.5l-6 0.5-3-1.5-2-2.5-4.5-15-3-6-11.5-16-9-7.5-2-3.5-1-3 1-3 4.5-12 0-6-2.5-4-3-1-3 0-6 3-4.5 5-4.5 9-3 3.5-6 1-12-2-3 1-4.5 5.5-1.5 12-18 2 0-92.5 18 1 33-3 12-2.5 9-0.5 12 0 15 4.5 18-3 14.5 4 9.5 0.5 6 2 3 2 6 8 6 2.5 18-1 12 2 6 0 3-1.5 3-2.5 4-6 5-2 3 0 9 5.5 6 2.5 1.5 3 1.5 18-0.5 3-1.5 3-5 3-5 1-18-2-3 1-2.5 3-1.5 3 0 3 1.5 6 4.5 9 4 3 11 3 1 2 0 4-3 4-3 2.5-6 1-4-1.5-5-5.5-3-1.5-6-0.5-12 5-18 2-3 1.5-6 6.5-3 1.5-12 0.5-3 2-9 11.5-8.5 19-3.5 4.5zM428 409.5l-6 1-18-4.5-1.5-3 1.5-9 3-2 12-2.5 6 1.5 3 3.5 2.5 8.5 0 3zM458 465l-3 0-15-3.5-15 0-6-1-4.5-3.5-1-3 1-6 4.5-11 3-1.5 12-2 4-3.5 1-6-3-12 2-3 8-3.5 6 0 3 1.5 7.5 11 10.5 7 3 5 0 6-1 3-10.5 12-3.5 11z"/>
<path fill="#ff6c00" d="M1235 467l-12 0-6-3.5-3-3.5-5.5-15-0.5-9-4-9-2.5-12-2.5-3.5-6-1.5-3 0.5-3 2-2.5 5.5 2 9-0.5 3-2 3-6 3-6 0-18-4.5-3-0.5-3 3-5.5 11-9.5 8.5-3-1-4.5-7.5-23-24-4-9-2.5-21-3-6-2-2-3-1-3 0-5 3-2 3-2 9-1.5 3-4.5 2.5-18-2.5-15.5 0-20.5-2-1-1 1-0.5 0.5-2.5 8.5-9 3.5-6 0.5-3-1-3.5-3-2.5-3-1-18-1-15 0.5-6 1.5-12 8.5-15-2-9 1.5-24 9.5-14.5 12.5-4.5 3-5 2-6 1-10-3-4.5-3-5.5-6-0.5-3 2.5-2 2.5-4 0.5-3-3-4-3-0.5-2.5 4.5-0.5 3 1.5 6-4.5 2-6 0.5-3.5-2.5-1.5-6-2.5-6-4.5-3.5-3 1-3 2.5-5.5 12-2.5 3-13 7-3 1-3-0.5-1.5-4.5 0.5-9-1-3-10-18-3-3.5-3-1-3 0-12 4.5-12-3-3 0.5-3 2.5-1.5 3-3.5 15-4 8-6 4-6 0.5-3-2-3-4.5-4-18 0-3 2-3 8.5-6 2.5-3 0.5-6-3.5-4.5-9-5-2-2.5 0-6 5-11 6-7 3 0 6 6.5 6 3.5 12-0.5 9 3 3 0.5 9-4.5 7 9.5 5 1.5 9-2 4-2.5 2.5-3 1.5-6-0.5-6-1-3-2.5-3-4-1.5-6 0.5-12 6-3 0-12-4.5-9-6-6-6.5-2.5-6-3-12 476.5 0 0 79.5-9 2-4.5 2.5-3.5 3 1.5 3 15.5 10.5zM695 340l-3-0.5-3-3-0.5-5.5 1.5-3 3.5-3 4.5-1.5 6 0 3 1.5 1 3-2.5 6-4.5 4zM1159 352l4.5-12 8.5-5 3.5-4-0.5-4.5-3-2.5-3-1-6 0-5.5 2-2.5 3-5 15-0.5 6 1.5 3 3 1.5 3 0zM1095 337l2.5-3-1-3-2-3-3.5-2-3 0.5-2.5 4.5 0 3 2.5 3.5 3 0.5zM1119 334l3.5-3-0.5-3-7 0.5-5.5 2.5-1 3 3.5 1.5 3 0zM1210 370l1-3-5-3-4 0-2.5 3 2.5 3 3 1zM653 377l-3 0.5-2-1.5 1.5-3 3.5-3 6-2.5 2.5 2.5-2 3zM638 398l-3 0.5-2.5-1.5-1-6 3.5-6.5 6-3 2.5 0.5 0 6-2 6zM1010 416.5l-3-2-6-10.5-2.5-1-18.5 2.5-6-0.5-6-2.5-3-2.5-2-6 2-6.5 3-4.5 3-3.5 6 1 12 6 15 10 9 0.5 2.5 3-1 9-1.5 6zM278 525l-3 1-3-0.5-3.5-2.5-2.5-5.5-2-9.5-2.5-6-7.5-12-3.5-9-7-6-1-3 2.5-4.5 3-2.5 1.5 1 2 9 2.5 2.5 15 0.5 6-1 17.5-5 1.5-3-0.5-3-3-6-3.5-2-6-0.5-12 5-15 1.5-3 1-2-2 0-18-4-4.5-6-2-3-0.5-6 3-6 5-12 15.5-3 1-9-2-6 1-6 4.5-9 9.5-3 1-6 0 0-77.5 27-0.5 51-5 6 1 9 5 3 0.5 18-1 15 2.5 12-1.5 4.5 3 1.5 9 3 1.5 30-1.5 21 4 3-1 9-7.5 6 1.5 6 5 2 4 0.5 6-0.5 3-2 3.5-6 1.5-15-4-3 0.5-6 3.5-4 4-1.5 3 0 6 5.5 12 1 3-1 3-24 5.5-15 2-25.5 7.5-1.5 2-3 10-6.5 12-5 15-3.5 5.5zM419 400.5l-1.5-0.5 1.5-3 1.5 3zM455 461l-3 0-12-1.5-15 0-5.5-2.5-1.5-3 1-4 3.5-5 5.5-3.5 12-5.5 3-3 1.5-6-1.5-12 1.5-3 4.5-2 3 0.5 9 10 10 6.5 2 3 0.5 3-2 6-9.5 9-4 10zM347 448l3-9-1-3-2-1-3 1-4 3-2.5 3-0.5 3 1 3 3 2.5 3 0zM380 472.5l-2.5-0.5 2.5-0.5z"/>
<path fill="#ff5e00" d="M1136 442l-3 1-3-0.5-6-4-4.5-5.5-4.5-8-9-8-2.5-5 0-3 2.5-12-1-3-6-9-5-4.5-6-1.5-6 1.5-3 2-3.5 5.5-2.5 9-3 3-6 0.5-12-2.5-14.5-1-4.5-3 0-3 4-4.5 3-1.5 9-1 3-2-0.5-3-8.5-8.5-4.5-9.5-4.5-2-12 3-12 0.5-15 2.5-12 0.5-15 7-21 2-12 5.5-12 3.5-6 4-13 12.5-5 2.5-6 1-6-1-4-2.5-2.5-3-0.5-3 3-9-0.5-3-1.5-4-8-11-1-11.5-3 4.5-2 10-4 7-3 1-9-6-6 0.5-4 3.5-11 14.5-6 2.5-3-0.5-11.5-19.5-6.5-13.5-3-2.5-6-0.5-9 2.5-3 0-3-1.5-1.5-2.5 0-3 1.5-3 6-4.5 6-1 9 1 3-1 16.5-9.5 2-3 1.5-9 0-6-2-5.5-3-3.5-6-2-12 0-15-1.5-9-3-6-4-3-4.5-1.5-12 469.5 0 0 39.5-9-1.5-6 0.5-9 6-9-3.5-3 1-6 5.5-3 0-6-8-3-1.5-27-3.5-6 1-12 5-15 1-12 2.5-6 0-3-1.5-9-5.5-3 1-3 3.5-2.5 6.5-1 6 1 3 2.5 3.5 8 2.5 19 1 8-1 10-3.5 4 0.5 2 3-2 18 1 6 1 1.5 3 1.5 6-4 3 0.5 3 3.5 1 9-4 5-5.5 19 1.5 12-2 18-2.5 6zM871.5 316l1-3-0.5-0.5-3-0.5-2 1-0.5 3 2.5 1zM908 328l0.5-3-3.5-2.5-4 2.5 0 3 1 2 3 0.5zM698 335l-3 0-1.5-1-1-3 2.5-3.5 6-1 2.5 1.5-0.5 3zM1211 348l-3 0.5-3-1.5-2-4-0.5-3 2.5-7.5 3-4 3-2 3.5 4.5 2 6-1.5 6zM1235 349l-3-1-3-2-1.5-3-0.5-6 0.5-3 2.5-3 5-3.5zM743 337.5l-3.5-0.5 0.5-4 3 0.5zM752 391l-6 2.5-4.5-2.5-2-3-1.5-6-1-9 3-4.5 11.5-7.5 3-3 3.5-6 1 0 0.5 3-2.5 6 0.5 18-2.5 8zM1181 355.5l0-1.5 1 1zM983 403.5l-9 0-6.5-3.5-1.5-3-0.5-3 2.5-4.5 3-2.5 6-1 6 1.5 6 4 2.5 2.5 1.5 3-1.5 3zM1223 398l-3-1.5-3.5-5.5 1-3 2.5-1.5 3 1 2 3.5 0.5 3zM311 466l-3 0-3-1.5-8-10.5-4-3-15-3.5-9-1-2.5-1.5-1-6-2-3-15.5-4.5-6-4.5-1.5-6 0-12 0-3 1.5-2.5 3-1.5 4.5 1 2.5 3 2.5 6 2.5 3 12 3 6 5 3 1 21 4.5 6 4.5 3 1 3-1.5 9.5-8.5 5.5-3 9-2 6 2-2.5 6-10.5 12-1 6 0.5 9-2.5 6-5 3.5zM179 466.5l-3 0-6-1.5 0-60 15-1 6 0.5 3.5 1.5 3 3 2.5 6 3 2.5 3 0.5 3-1 1.5-2 1-6 2-3 5 0 1.5 3-0.5 9 2.5 15 0 3-7 12.5-3 4.5-3 2-12 0.5zM1235 426l-9 0-3-1-1.5-1-1.5-3 1.5-3 4.5-4 9-2zM449 457.5l-21-0.5-3-1-2-2 0.5-3 4.5-4 15-6.5 3-2 3-5.5 3-13 14.5 7 3 3 1 3-1 3-2.5 3-7.5 6-5 9-2.5 3zM1229 463l-6 0-4-3-2-6 1-3 2-1.5 6-0.5 9 2.5 0 10zM278 523l-3 1-3-0.5-3.5-3.5-3.5-15-7.5-15 0-3 2.5-3 6-1 9 0 9-1.5 3 0.5 3 2 1 6-4.5 12-2.5 12-3 6z"/>
<path fill="#ff5100" d="M1130 407l-6 1.5-3-1-1.5-1.5-1-3-1-15-2.5-5.5-3-2-18-3.5-9 0.5-5 1.5-4.5 3-2 3-3.5 11-3 2-9.5-1-7-3 0.5-3 6.5-6 1-3-0.5-3-3-4.5-7.5-7.5-5.5-9-4.5-3-3.5-1-12 1-9-0.5-3 1-12 5.5-18 2-15 6.5-21 2-12 4.5-9 1-9 6.5-12 14-6 3-6 0-5-3.5-0.5-3 2.5-9-0.5-3-7-12-2.5-6 1.5-24-3.5-5-3-0.5-9.5 29.5-2.5 4.5-3 1-9-0.5-3 1-3 2-9 10.5-3 2.5-3 1.5-3-0.5-6-4.5-6-8.5-2.5-6-2.5-12 1-6 2.5-3 10.5-7.5 3.5-4.5 1.5-18-1.5-6-2-3-4.5-3.5-6-2-9-1-6-1.5-18-9-3-3-0.5-7 340 0 0 6 5.5 2 6-2 1-3 0-3 107 0 0 31-15-3-12-0.5-12-6.5-6-1-4 1-8 6.5-3 1.5-24-2.5-3 1-7 5.5-5.5 3-26.5 4-5-1-4-2.5-9-8-3 0.5-3 4-5 15-1 6 1.5 6 3.5 3 4 2 15 5 15 1 5 4 4.5 18 9 9 2.5 6 0 6-2 6-4 5zM871.5 328l6.5-12 0.5-3-0.5-3-3-2.5-3-1-7 0.5-6 3-3 3-1 3 0.5 3 4.5 5 6 3.5 3 2zM906.5 334l4-3 2-6-1-3-3.5-2-6-0.5-3 2-1.5 3.5 0 6 4.5 3.5zM749 387l-3 0.5-3-3-2-8.5 2-4 3-2 3-0.5 3 2 0.5 1.5 1 6-1.5 5zM983 401l-6 1-6-2-2-3 0-3 2-2.5 3-1.5 7.5 1 4.5 3 1 3-1.5 3zM185 458l-6 1.5-9-4 0-43 12-0.5 3 1 4.5 8 11.5 9 3.5 6 0.5 6-2 3zM1133 437.5l-3 0-3-1.5-4.5-6-1-6 2.5-4 3-1 3 0.5 3 1.5 3 3 1 3 0 6-1.5 3zM461 437.5l-3 0-2-1.5 0-3 2-3.5 5.5 0.5 2 3-1.5 3zM278 521l-3 1-3-0.5-3-4.5-2-15-4-9 0-3 3-1.5 15 1.5 2.5 3-1.5 21-1 3z"/>
<path fill="#ff4300" d="M1064 394.5l-3.5-0.5-0.5-3 5.5-6-1-3-3.5-6-11-12-6-9-5-3-11-2.5-12-3.5-6 1-3 1.5-5.5 6.5-4.5 3-5 1.5-12 0-18 8-9 0-15-1.5-4-2-5-5-3-1-3 0-3 2.5-6 12.5-9.5 12-5.5 8.5-3 2.5-3 1-3-3 2-9-0.5-3-9-12-3-9 0.5-9 3.5-12 0-3-4.5-9-0.5-3 4-12 0-3-2-3-2.5-1.5-9-2.5-6 0.5-12 2.5-4 1-3.5 3-0.5 3 5 9 3 3.5 9 6 4.5 5.5 0 9-5 15-2.5 3-9 2.5-6 3-9 10-3 2-3 1-3-0.5-6-4-3.5-5-2.5-6-0.5-9 1.5-6 1.5-3 12.5-8.5 2-3.5 0.5-24-3-6-5.5-5-6-3.5-12-2.5-6-4-1.5-3 0-3 0.5-6 286.5 0 1.5 21-7 30 0.5 9 4.5 5 12 6 9 5.5 9 0.5 3.5 1 2.5 3 1 6-1 3.5-3 1.5-15-0.5-18 4.5-7 3-7.5 6-0.5 7.5zM1235 305l-9-2.5-15-9.5-6-1-12 0-6-1.5-3-3.5-1-7 52 0zM1115 316.5l-7-0.5-5.5-3-4-6-0.5-3 2-4.5 6-3 12-1 15-0.5 3 0.5 4 2.5 1 3 0 3-1 3-4 4-6 3zM907 337l4-2.5 2.5-3.5 2.5-6-0.5-3-3-3-4.5-2-6 0-3 1-3 2.5-2 4.5-0.5 6 1.5 3 4 3 3 0.5zM1130 397.5l-3 0.5-2-4 0-6 2-3 3 0.5 3 5.5-0.5 3zM980 397.5l-3 0.5-3-1 3-2.5 3 2zM185 451.5l-3 1.5-3-0.5-7-4.5-2-1.5 0-6 12-5.5 6-0.5 3 1 2 3.5 0 3-3.5 6zM278 517.5l-3 2-3.5-2.5-1-6 1.5-12.5 3-0.5 3.5 4 1.5 9z"/>
<path fill="#ff3600" d="M1073 376.5l-3 1-3-1-3-3-9-9.5-9-12-3-2-12-3-9-6.5-6-2-14.5 4.5-4 9-3 3-5.5 1-9 0-15 7.5-6 1.5-9-0.5-6-2.5-3-2-6-7-3-2-6-0.5-6 1-3.5 3.5-5 12-3.5 5.5-6 5-3 1-3-0.5-6-3.5-6.5-7.5-2-9 2-9 3.5-6.5 3-3 3-0.5 12 2 6-2.5 7.5-10.5 0.5-6-2-3.5-4-2.5-5-1-6-0.5-6 1-4 3.5-2 6-3 3.5-3-3.5 0-3 3.5-9-0.5-3-1.5-3-3.5-3-13-3.5-12-1-12 1.5-9 4-3 0.5-3-1-12-8.5-10.5-4-3.5-3 0-3 4-6 271 0 1.5 24-6 30 0 6 1 3 3 3 12 6 3.5 3 3.5 6 0.5 3-1.5 3-3.5 3zM1127 311l-15 2-5.5-3-1.5-3 1.5-3 5-3 6.5-1 9 0 3.5 1 3 3-0.5 3-3.5 3zM827 380l-6-2.5-4-4.5-2.5-6 0.5-9 3-5.5 10.5-6.5 5.5-6 3.5-6 1.5-6.5 4.5 3.5 10.5 2.5 5 3.5 2 6 0 6-3.5 9-2.5 3-13 5.5-9 10zM275 514l0-3z"/>
<path fill="#ff2800" d="M1073 373l-3-0.5-3.5-2.5-11-12-5-9-1.5-1-15-3-3.5-2-8.5-7.5-6-2-12 1.5-9 0.5-3 1-2 3.5 0.5 9-1.5 1-12 3.5-9 5.5-6 2.5-6 0.5-6-1-5-3-6.5-9-3.5-2.5-6-1.5-12 0.5-3-2.5 9.5-18-1.5-6-5-5-21-3-3-2-6-6-30-10.5-21 6-6 0-5-3.5-3-3-1-3 1.5-3 7.5-6 24.5 0 2.5 2.5 2-2.5 217.5 0 1 24-2 15-4.5 18-0.5 6 2.5 4 16.5 8 2.5 3 1 3 0 3-2 3-3 2zM830 376.5l-3 0.5-3-0.5-4.5-3.5-2.5-6 0.5-6 1.5-3 2-2.5 9-5.5 12-10.5 6-1.5 6 1.5 3 3.5 0.5 3-1.5 9-2.5 3-2.5 2-9 4zM902 371.5l-6 1.5-3-1-6-4.5-2-3.5-1-6 1-6 3.5-6 4.5-3 6 0 15 3-5 18-4 5z"/>
<path fill="#ff1b00" d="M962 358.5l-6 0.5-4-1-5-4.5-6-12-6-2.5-6-0.5-4-1.5 1.5-3 4-6-0.5-3-10-14.5-3-1.5-9 0.5-6-1-3.5-1.5-5.5-6-3-2-18.5-4-4-3-2-3 1-9 42 0 1.5 6 2.5 3 4.5 3 6 1 9-1 5.5-3-4.5-6-1-3 142 0 1 21-1 12-2 12-2 5.5-3 4-3 1-9-2-3 1.5-6 7-3 1-6 0-5.5-3-6.5-7-6-3.5-6-0.5-12 1-12.5-2-4.5-3-4-7-3-2-6 0-12 8-9 3.5-2 3.5 2 2 3 1 21-2.5 3 0 3 1.5 1 7-2 6-10.5 9zM961 304l10-4.5 3-2.5 1-5-1-4.5-3-1-6 4.5-9.5 4-2.5 2.5 0 3.5 3 4 3 0zM830 373.5l-3 1-3-0.5-3-3-1.5-4 1.5-6.5 3-3 9-5 9-7.5 6-2 3 1 2 2 0.5 3-1.5 6-13 8zM899 368l-3 0.5-5.5-1.5-2.5-3-1.5-3 0-6 1-3 2.5-4 3-1.5 3-1 6 1.5 4 2 1.5 3 0.5 3-1.5 6-4.5 5.5zM1085 367.5l-6 1.5-6-0.5-2-1.5-1.5-3-0.5-3 1-3 3-3 3-1 6 0.5 3 1.5 2.5 2 1.5 3-0.5 3z"/>
<path fill="#ff0d00" d="M887 292.5l-6 1-6.5-1.5-3-3-0.5-3 1.5-6 23.5 0-0.5 6-1.5 3zM992 285.5l-3 0-2.5-5.5 9.5 0-1 3zM1043 338.5l-3 1.5-3-0.5-3-1.5-9-10-6-3.5-6-1-12 1-6-2-3.5-3.5-0.5-6 1-3.5 7-11.5 11-10 2.5-8 58.5 0 1.5 21-2 18-1.5 6-2 3-3 1.5-12-1.5-3 1.5zM908 304.5l-3.5-0.5-2-3 1.5-3 4 1 2 2zM941 320l-6 0.5-3-1.5-5-6-2.5-6 0.5-3 3-3 4-1.5 6-0.5 5 2 2.5 3 1 3 0.5 6-1.5 3zM959 355l-3 0-4-3-0.5-3 0.5-3 4-3 3-0.5 7 0.5 2 3-0.5 3-2.5 3.5zM896 364.5l-3-0.5-3-2.5-1-3.5 1.5-6 2.5-2 3-1 3 0.5 3 1.5 2 4-0.5 3-1.5 3.5-3 2.5zM842 355.5l-2-0.5 1.5-3 3.5-2 2 2-2 2.5zM830 370l-3 1-2.5-1-1.5-3 0.5-3 3.5-3.5 6-1.5 2 2-2.5 6z"/>
<path fill="#f00" d="M1064 322.5l-4.5-0.5-2-3 0.5-9-4.5-15-1.5-1.5-3-0.5-12 3.5-6-0.5-4-4-1-12 40 0 2.5 21-2 15zM938 314.5l-3 0-3-2-1.5-2.5 0.5-3 1-1 3-1.5 3 0.5 2.5 2 0.5 3.5zM1040 332.5l-3 1-2.5-2.5-1.5-6 1-1.5 3 1 3 2.5 0.5 4zM896 358.5l-1-0.5 0-3 1-0.5 1.5 0.5-0.5 3z"/></g>
<path fill="#fff" d="M897.4 285.2h210.2v3.8h-210.2zM901.2 289.0h206.5v3.8h-206.5zM904.9 292.8h202.7v3.8h-202.7zM908.7 296.6h199.0v3.8h-199.0zM920.0 300.4h187.7v3.8h-187.7zM927.5 304.1h176.5v3.8h-176.5zM938.7 307.9h165.2v3.8h-165.2zM950.0 311.7h153.9v3.8h-153.9zM957.5 315.5h41.3v3.8h-41.3zM1010.0 315.5h93.9v3.8h-93.9zM1107.6 315.5h60.1v3.8h-60.1zM972.5 319.3h18.8v3.8h-18.8zM1017.6 319.3h153.9v3.8h-153.9zM1025.1 323.0h150.2v3.8h-150.2zM1028.8 326.8h153.9v3.8h-153.9zM1032.6 330.6h150.2v3.8h-150.2zM1036.3 334.4h146.4v3.8h-146.4zM1040.1 338.1h142.7v3.8h-142.7zM1043.8 341.9h138.9v3.8h-138.9zM1051.3 345.7h127.7v3.8h-127.7zM1070.1 349.5h108.9v3.8h-108.9zM1073.9 353.3h105.1v3.8h-105.1zM1085.1 357.0h93.9v3.8h-93.9zM1111.4 360.8h67.6v3.8h-67.6zM1111.4 364.6h67.6v3.8h-67.6zM1115.1 368.4h60.1v3.8h-60.1zM1118.9 372.2h56.4v3.8h-56.4zM1122.7 375.9h52.6v3.8h-52.6zM1126.4 379.7h48.8v3.8h-48.8zM1130.2 383.5h45.1v3.8h-45.1zM1137.7 387.3h37.6v3.8h-37.6zM1137.7 391.1h37.6v3.8h-37.6zM1137.7 394.8h41.3v3.8h-41.3zM1137.7 398.6h45.1v3.8h-45.1zM1137.7 402.4h45.1v3.8h-45.1zM1137.7 406.2h48.8v3.8h-48.8zM1141.4 409.9h52.6v3.8h-52.6zM1156.4 413.7h41.3v3.8h-41.3zM1163.9 417.5h37.6v3.8h-37.6zM1220.2 417.5h7.6v3.8h-7.6zM1167.7 421.3h60.1v3.8h-60.1zM1167.7 425.1h60.1v3.8h-60.1zM1167.7 428.8h60.1v3.8h-60.1zM1175.2 432.6h52.6v3.8h-52.6zM1194.0 436.4h33.8v3.8h-33.8zM1201.5 440.2h26.3v3.8h-26.3zM1209.0 444.0h18.8v3.8h-18.8zM1212.7 447.7h11.3v3.8h-11.3zM1216.5 557.3h11.3v3.8h-11.3zM1216.5 561.1h11.3v3.8h-11.3zM1216.5 564.9h11.3v3.8h-11.3zM1212.7 568.7h15.1v3.8h-15.1zM1212.7 572.4h15.1v3.8h-15.1zM1212.7 576.2h15.1v3.8h-15.1zM1212.7 580.0h15.1v3.8h-15.1zM1212.7 583.8h15.1v3.8h-15.1zM1212.7 587.6h15.1v3.8h-15.1zM1212.7 591.3h15.1v3.8h-15.1zM1212.7 595.1h15.1v3.8h-15.1zM1220.2 598.9h7.6v3.8h-7.6zM1224.0 602.7h3.8v3.8h-3.8zM1220.2 606.4h7.6v3.8h-7.6zM1216.5 610.2h11.3v3.8h-11.3zM1209.0 614.0h18.8v3.8h-18.8zM1205.2 617.8h22.6v3.8h-22.6zM1205.2 621.6h22.6v3.8h-22.6zM1205.2 625.3h22.6v3.8h-22.6zM1205.2 629.1h22.6v3.8h-22.6zM1205.2 632.9h22.6v3.8h-22.6zM1209.0 636.7h18.8v3.8h-18.8zM1209.0 640.5h18.8v3.8h-18.8zM1209.0 644.2h18.8v3.8h-18.8zM1209.0 648.0h18.8v3.8h-18.8zM1212.7 651.8h15.1v3.8h-15.1zM1216.5 655.6h11.3v3.8h-11.3zM1224.0 659.3h3.8v3.8h-3.8z"/>
<rect x="1052.3" y="568.2" width="11.7" height="7.9" fill="#fff"/>
<path d="M899.8 280.0 899.8 287.8 910.1 295.9 926.4 302.2 933.3 305.9 940.2 307.2 957.1 314.7 965.2 316.3 982.8 321.4 999.1 313.7 1006.6 313.6 1015.4 316.3 1024.2 321.0 1034.2 331.0 1046.7 342.3 1053.0 345.4 1060.6 348.4 1069.9 348.8 1080.5 355.7 1087.2 356.3 1095.1 359.7 1108.4 359.9 1111.7 356.3 1116.4 362.1 1112.4 363.4 1124.3 376.9 1140.3 389.4 1139.8 402.8 1141.2 409.0 1145.1 410.0 1149.4 412.9 1154.2 408.6 1157.5 412.9 1166.2 418.1 1171.9 422.9 1170.5 428.7 1173.8 431.6 1177.7 432.0 1182.5 435.4 1186.3 433.5 1195.9 435.4 1200.7 438.3 1204.5 441.6 1211.7 442.1 1213.6 450.7 1224.6 446.9 1235.0 444.0 1235.0 418.0 1224.6 421.5 1205.5 427.3 1200.7 423.4 1194.4 422.0 1191.1 416.2 1183.4 410.5 1179.6 405.7 1172.9 396.1 1169.5 389.4 1171.9 383.6 1172.1 376.9 1174.1 363.7 1174.8 349.0 1178.5 342.4 1178.1 331.8 1170.8 327.1 1162.8 320.5 1152.2 317.9 1144.3 319.2 1136.3 318.2 1121.7 321.2 1112.4 319.6 1104.4 322.8 1092.5 316.3 1099.8 310.5 1103.1 299.9 1103.8 288.0 1103.8 280.0zM1055.2 557.2 1061.5 564.8 1064.5 569.5 1059.5 574.7 1054.5 572.5 1058.8 568.9 1054.5 565.3zM1235.0 558.0 1223.9 560.4 1219.7 562.5 1218.3 571.6 1213.4 574.4 1215.5 582.8 1213.4 593.3 1219.0 597.5 1224.6 603.1 1235.0 606.0zM1235.0 606.0 1224.6 610.1 1214.8 616.4 1207.1 624.1 1207.1 630.4 1209.9 638.8 1214.8 644.4 1209.2 648.6 1216.2 654.2 1224.6 659.1 1235.0 662.0z" fill="#808080" stroke="#000" stroke-width="1.1" stroke-linejoin="round"/>
<path d="M1219.4 436.4L1226 433.5L1226 444.5L1220.8 441.2z" fill="#fff" stroke="#000" stroke-width="1"/>
</g>
<g stroke="#000" stroke-width="1.3" stroke-dasharray="0.01 3.98" stroke-linecap="round" opacity="0.9"><line x1="401.50" y1="286.0" x2="401.50" y2="679.0"/><line x1="626.50" y1="286.0" x2="626.50" y2="679.0"/><line x1="851.50" y1="286.0" x2="851.50" y2="679.0"/><line x1="1076.50" y1="286.0" x2="1076.50" y2="679.0"/><line x1="176.0" y1="331.50" x2="1227.0" y2="331.50"/><line x1="176.0" y1="408.50" x2="1227.0" y2="408.50"/><line x1="176.0" y1="483.50" x2="1227.0" y2="483.50"/><line x1="176.0" y1="558.50" x2="1227.0" y2="558.50"/><line x1="176.0" y1="633.50" x2="1227.0" y2="633.50"/></g>
<g stroke="#000" stroke-width="4"><line x1="401.00" y1="286.0" x2="401.00" y2="296.5"/><line x1="401.00" y1="679.0" x2="401.00" y2="668.5"/><line x1="626.00" y1="286.0" x2="626.00" y2="296.5"/><line x1="626.00" y1="679.0" x2="626.00" y2="668.5"/><line x1="852.00" y1="286.0" x2="852.00" y2="296.5"/><line x1="852.00" y1="679.0" x2="852.00" y2="668.5"/><line x1="1077.00" y1="286.0" x2="1077.00" y2="296.5"/><line x1="1077.00" y1="679.0" x2="1077.00" y2="668.5"/><line x1="176.0" y1="332.00" x2="186.5" y2="332.00"/><line x1="1227.0" y1="332.00" x2="1216.5" y2="332.00"/><line x1="176.0" y1="408.00" x2="186.5" y2="408.00"/><line x1="1227.0" y1="408.00" x2="1216.5" y2="408.00"/><line x1="176.0" y1="484.00" x2="186.5" y2="484.00"/><line x1="1227.0" y1="484.00" x2="1216.5" y2="484.00"/><line x1="176.0" y1="559.00" x2="186.5" y2="559.00"/><line x1="1227.0" y1="559.00" x2="1216.5" y2="559.00"/><line x1="176.0" y1="634.00" x2="186.5" y2="634.00"/><line x1="1227.0" y1="634.00" x2="1216.5" y2="634.00"/></g>
<rect x="176.0" y="286.0" width="1051.0" height="393.0" fill="none" stroke="#000" stroke-width="4" stroke-linejoin="round"/>
<text class="t" x="171.0" y="340.5" text-anchor="end">15<tspan class="s" dy="-7.8">o</tspan><tspan dy="7.8" dx="0.9">N</tspan></text>
<text class="t" x="171.0" y="417.2" text-anchor="end">10<tspan class="s" dy="-7.8">o</tspan><tspan dy="7.8" dx="0.9">N</tspan></text>
<text class="t" x="171.0" y="492.7" text-anchor="end">5<tspan class="s" dy="-7.8">o</tspan><tspan dy="7.8" dx="0.9">N</tspan></text>
<text class="t" x="171.0" y="567.7" text-anchor="end">0<tspan class="s" dy="-7.8">o</tspan><tspan dy="7.8" dx="0.9"></tspan></text>
<text class="t" x="171.0" y="642.7" text-anchor="end">5<tspan class="s" dy="-7.8">o</tspan><tspan dy="7.8" dx="0.9">S</tspan></text>
<text class="t" x="176.5" y="701.2" text-anchor="middle">150<tspan class="s" dy="-7.8">o</tspan><tspan dy="7.8" dx="0.9">W</tspan></text>
<text class="t" x="401.7" y="701.2" text-anchor="middle">135<tspan class="s" dy="-7.8">o</tspan><tspan dy="7.8" dx="0.9">W</tspan></text>
<text class="t" x="626.9" y="701.2" text-anchor="middle">120<tspan class="s" dy="-7.8">o</tspan><tspan dy="7.8" dx="0.9">W</tspan></text>
<text class="t" x="852.1" y="701.2" text-anchor="middle">105<tspan class="s" dy="-7.8">o</tspan><tspan dy="7.8" dx="0.9">W</tspan></text>
<text class="t" x="1077.4" y="701.2" text-anchor="middle">90<tspan class="s" dy="-7.8">o</tspan><tspan dy="7.8" dx="0.9">W</tspan></text>
<text x="705.4" y="235.3" text-anchor="middle" style="font-size:31.55px;font-weight:bold">AVHRR Sea Surface Temperature</text>
<text x="701.8" y="274.4" text-anchor="middle" style="font-size:25px;font-weight:bold">2018-09-30</text>
<g shape-rendering="crispEdges"><rect x="174.50" y="711.5" width="11.00" height="19.0" fill="#b38ad2"/><rect x="185.00" y="711.5" width="11.00" height="19.0" fill="#a97bc9"/><rect x="195.50" y="711.5" width="11.00" height="19.0" fill="#9f6bc1"/><rect x="206.00" y="711.5" width="11.00" height="19.0" fill="#965bb8"/><rect x="216.50" y="711.5" width="11.00" height="19.0" fill="#8c4caf"/><rect x="227.00" y="711.5" width="11.00" height="19.0" fill="#823ca7"/><rect x="237.50" y="711.5" width="11.00" height="19.0" fill="#782c9e"/><rect x="248.00" y="711.5" width="11.00" height="19.0" fill="#6e1d96"/><rect x="258.50" y="711.5" width="11.00" height="19.0" fill="#640d8d"/><rect x="269.00" y="711.5" width="11.00" height="19.0" fill="#5b0087"/><rect x="279.50" y="711.5" width="11.00" height="19.0" fill="#55008f"/><rect x="290.00" y="711.5" width="11.00" height="19.0" fill="#500096"/><rect x="300.50" y="711.5" width="11.00" height="19.0" fill="#4a009e"/><rect x="311.00" y="711.5" width="11.00" height="19.0" fill="#4400a6"/><rect x="321.50" y="711.5" width="11.00" height="19.0" fill="#3e00ad"/><rect x="332.00" y="711.5" width="11.00" height="19.0" fill="#3900b5"/><rect x="342.50" y="711.5" width="11.00" height="19.0" fill="#3300bc"/><rect x="353.00" y="711.5" width="11.00" height="19.0" fill="#2d00c4"/><rect x="363.50" y="711.5" width="11.00" height="19.0" fill="#2700cb"/><rect x="374.00" y="711.5" width="11.00" height="19.0" fill="#2200d3"/><rect x="384.50" y="711.5" width="11.00" height="19.0" fill="#1c00da"/><rect x="395.00" y="711.5" width="11.00" height="19.0" fill="#1600e2"/><rect x="405.50" y="711.5" width="11.00" height="19.0" fill="#1000ea"/><rect x="416.00" y="711.5" width="11.00" height="19.0" fill="#0b00f1"/><rect x="426.50" y="711.5" width="11.00" height="19.0" fill="#0500f9"/><rect x="437.00" y="711.5" width="11.00" height="19.0" fill="#0002fd"/><rect x="447.50" y="711.5" width="11.00" height="19.0" fill="#000cef"/><rect x="458.00" y="711.5" width="11.00" height="19.0" fill="#0017e0"/><rect x="468.50" y="711.5" width="11.00" height="19.0" fill="#0021d2"/><rect x="479.00" y="711.5" width="11.00" height="19.0" fill="#002cc4"/><rect x="489.50" y="711.5" width="11.00" height="19.0" fill="#0037b6"/><rect x="500.00" y="711.5" width="11.00" height="19.0" fill="#0041a8"/><rect x="510.50" y="711.5" width="11.00" height="19.0" fill="#004c9a"/><rect x="521.00" y="711.5" width="11.00" height="19.0" fill="#00568c"/><rect x="531.50" y="711.5" width="11.00" height="19.0" fill="#00617e"/><rect x="542.00" y="711.5" width="11.00" height="19.0" fill="#006b70"/><rect x="552.50" y="711.5" width="11.00" height="19.0" fill="#007662"/><rect x="563.00" y="711.5" width="11.00" height="19.0" fill="#008053"/><rect x="573.50" y="711.5" width="11.00" height="19.0" fill="#008b45"/><rect x="584.00" y="711.5" width="11.00" height="19.0" fill="#009637"/><rect x="594.50" y="711.5" width="11.00" height="19.0" fill="#00a029"/><rect x="605.00" y="711.5" width="11.00" height="19.0" fill="#00ab1b"/><rect x="615.50" y="711.5" width="11.00" height="19.0" fill="#08b213"/><rect x="626.00" y="711.5" width="11.00" height="19.0" fill="#17b712"/><rect x="636.50" y="711.5" width="11.00" height="19.0" fill="#26bc11"/><rect x="647.00" y="711.5" width="11.00" height="19.0" fill="#36c110"/><rect x="657.50" y="711.5" width="11.00" height="19.0" fill="#45c50f"/><rect x="668.00" y="711.5" width="11.00" height="19.0" fill="#54ca0d"/><rect x="678.50" y="711.5" width="11.00" height="19.0" fill="#63cf0c"/><rect x="689.00" y="711.5" width="11.00" height="19.0" fill="#73d40b"/><rect x="699.50" y="711.5" width="11.00" height="19.0" fill="#82d80a"/><rect x="710.00" y="711.5" width="11.00" height="19.0" fill="#91dd09"/><rect x="720.50" y="711.5" width="11.00" height="19.0" fill="#a1e207"/><rect x="731.00" y="711.5" width="11.00" height="19.0" fill="#b0e706"/><rect x="741.50" y="711.5" width="11.00" height="19.0" fill="#bfeb05"/><rect x="752.00" y="711.5" width="11.00" height="19.0" fill="#cff004"/><rect x="762.50" y="711.5" width="11.00" height="19.0" fill="#def503"/><rect x="773.00" y="711.5" width="11.00" height="19.0" fill="#edf901"/><rect x="783.50" y="711.5" width="11.00" height="19.0" fill="#fcfe00"/><rect x="794.00" y="711.5" width="11.00" height="19.0" fill="#fffa00"/><rect x="804.50" y="711.5" width="11.00" height="19.0" fill="#fff500"/><rect x="815.00" y="711.5" width="11.00" height="19.0" fill="#ffef00"/><rect x="825.50" y="711.5" width="11.00" height="19.0" fill="#ffea00"/><rect x="836.00" y="711.5" width="11.00" height="19.0" fill="#ffe400"/><rect x="846.50" y="711.5" width="11.00" height="19.0" fill="#ffdf00"/><rect x="857.00" y="711.5" width="11.00" height="19.0" fill="#ffd900"/><rect x="867.50" y="711.5" width="11.00" height="19.0" fill="#ffd400"/><rect x="878.00" y="711.5" width="11.00" height="19.0" fill="#ffce00"/><rect x="888.50" y="711.5" width="11.00" height="19.0" fill="#ffc900"/><rect x="899.00" y="711.5" width="11.00" height="19.0" fill="#ffc300"/><rect x="909.50" y="711.5" width="11.00" height="19.0" fill="#ffbe00"/><rect x="920.00" y="711.5" width="11.00" height="19.0" fill="#ffb800"/><rect x="930.50" y="711.5" width="11.00" height="19.0" fill="#ffb300"/><rect x="941.00" y="711.5" width="11.00" height="19.0" fill="#ffad00"/><rect x="951.50" y="711.5" width="11.00" height="19.0" fill="#ffa800"/><rect x="962.00" y="711.5" width="11.00" height="19.0" fill="#ffa000"/><rect x="972.50" y="711.5" width="11.00" height="19.0" fill="#ff9600"/><rect x="983.00" y="711.5" width="11.00" height="19.0" fill="#ff8c00"/><rect x="993.50" y="711.5" width="11.00" height="19.0" fill="#ff8200"/><rect x="1004.00" y="711.5" width="11.00" height="19.0" fill="#ff7800"/><rect x="1014.50" y="711.5" width="11.00" height="19.0" fill="#ff6d00"/><rect x="1025.00" y="711.5" width="11.00" height="19.0" fill="#ff6300"/><rect x="1035.50" y="711.5" width="11.00" height="19.0" fill="#ff5900"/><rect x="1046.00" y="711.5" width="11.00" height="19.0" fill="#ff4f00"/><rect x="1056.50" y="711.5" width="11.00" height="19.0" fill="#ff4500"/><rect x="1067.00" y="711.5" width="11.00" height="19.0" fill="#ff3b00"/><rect x="1077.50" y="711.5" width="11.00" height="19.0" fill="#ff3100"/><rect x="1088.00" y="711.5" width="11.00" height="19.0" fill="#ff2700"/><rect x="1098.50" y="711.5" width="11.00" height="19.0" fill="#ff1d00"/><rect x="1109.00" y="711.5" width="11.00" height="19.0" fill="#ff1300"/><rect x="1119.50" y="711.5" width="11.00" height="19.0" fill="#ff0800"/><rect x="1130.00" y="711.5" width="11.00" height="19.0" fill="#fd0000"/><rect x="1140.50" y="711.5" width="11.00" height="19.0" fill="#f20000"/><rect x="1151.00" y="711.5" width="11.00" height="19.0" fill="#e70000"/><rect x="1161.50" y="711.5" width="11.00" height="19.0" fill="#dc0000"/><rect x="1172.00" y="711.5" width="11.00" height="19.0" fill="#d10000"/><rect x="1182.50" y="711.5" width="11.00" height="19.0" fill="#c60000"/><rect x="1193.00" y="711.5" width="11.00" height="19.0" fill="#bb0000"/><rect x="1203.50" y="711.5" width="11.00" height="19.0" fill="#b00000"/><rect x="1214.00" y="711.5" width="11.00" height="19.0" fill="#a50000"/></g>
<rect x="174.5" y="711.5" width="1050.0" height="19.0" fill="none" stroke="#262626" stroke-width="1"/>
<text class="cb" x="244.5" y="755.3" text-anchor="middle">18</text>
<text class="cb" x="384.5" y="755.3" text-anchor="middle">20</text>
<text class="cb" x="524.5" y="755.3" text-anchor="middle">22</text>
<text class="cb" x="664.5" y="755.3" text-anchor="middle">24</text>
<text class="cb" x="804.5" y="755.3" text-anchor="middle">26</text>
<text class="cb" x="944.5" y="755.3" text-anchor="middle">28</text>
<text class="cb" x="1084.5" y="755.3" text-anchor="middle">30</text>
<text class="cb" x="1224.5" y="755.3" text-anchor="middle">32</text>
<line x1="244.50" y1="730.5" x2="244.50" y2="720.0" stroke="#262626" stroke-width="1"/><line x1="384.50" y1="730.5" x2="384.50" y2="720.0" stroke="#262626" stroke-width="1"/><line x1="524.50" y1="730.5" x2="524.50" y2="720.0" stroke="#262626" stroke-width="1"/><line x1="664.50" y1="730.5" x2="664.50" y2="720.0" stroke="#262626" stroke-width="1"/><line x1="804.50" y1="730.5" x2="804.50" y2="720.0" stroke="#262626" stroke-width="1"/><line x1="944.50" y1="730.5" x2="944.50" y2="720.0" stroke="#262626" stroke-width="1"/><line x1="1084.50" y1="730.5" x2="1084.50" y2="720.0" stroke="#262626" stroke-width="1"/>
<text class="cb" x="700" y="779.5" text-anchor="middle" style="font-size:16.2px">°C</text>
</svg></body></html>
